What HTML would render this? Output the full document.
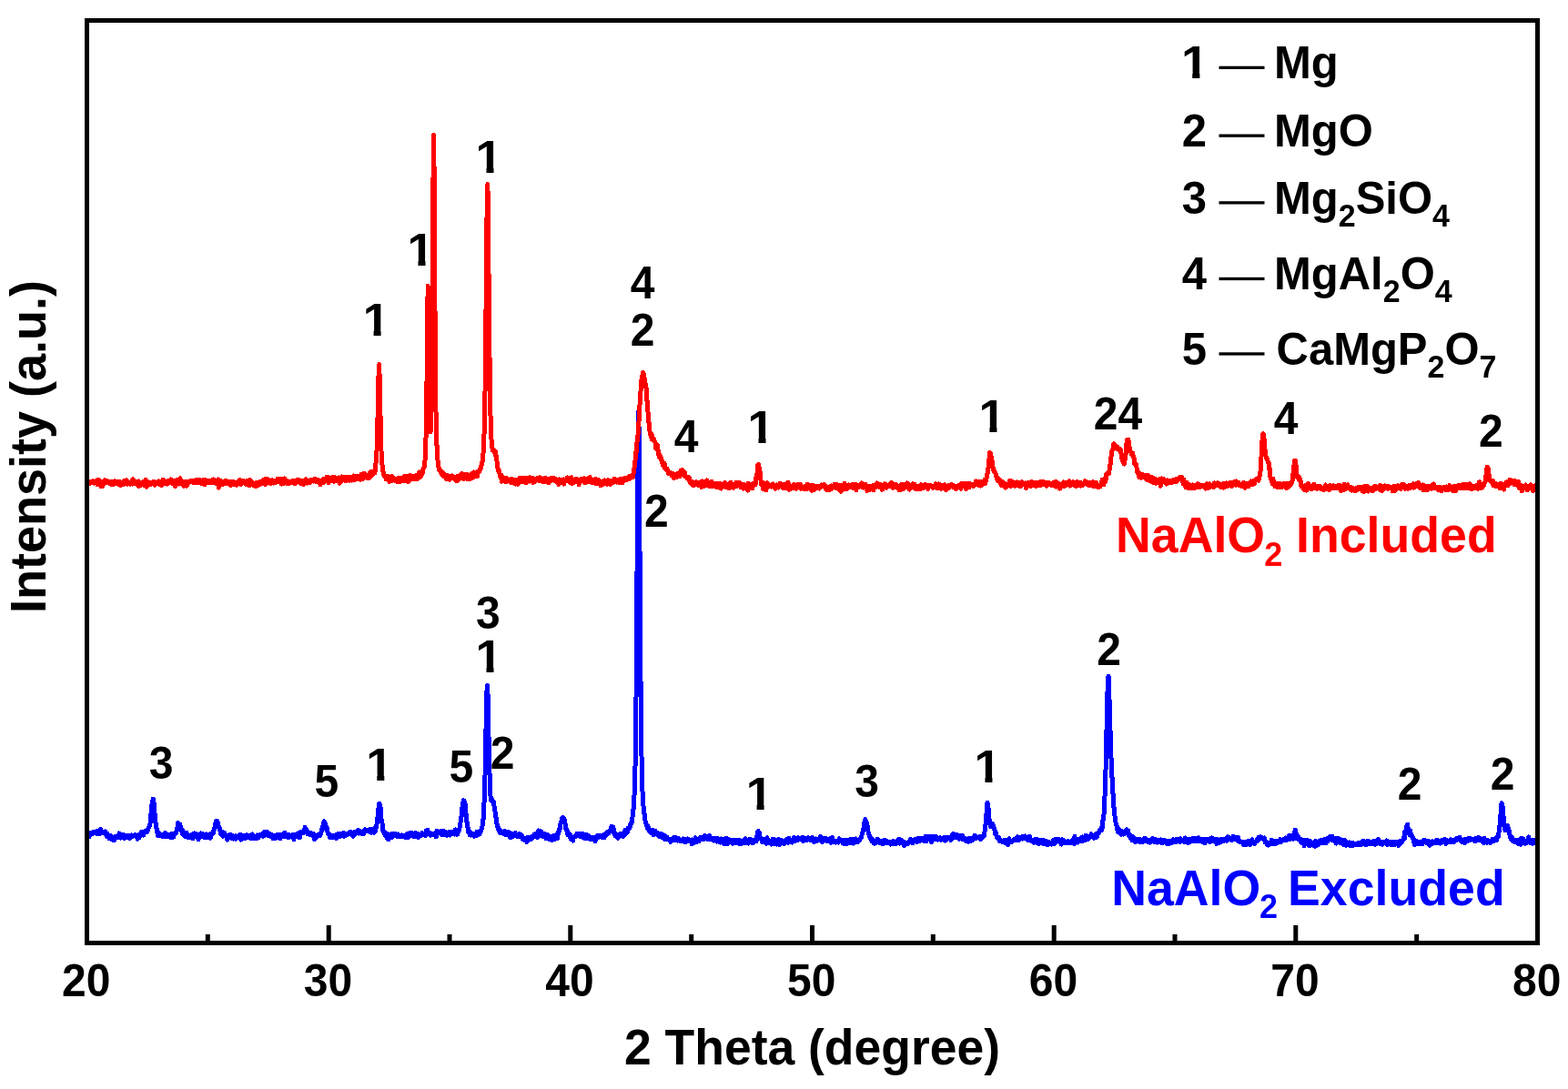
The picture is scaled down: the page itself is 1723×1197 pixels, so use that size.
<!DOCTYPE html>
<html><head><meta charset="utf-8"><title>XRD</title>
<style>
html,body{margin:0;padding:0;background:#fff;}
body{width:1723px;height:1197px;overflow:hidden;}
svg{display:block;}
text{font-family:"Liberation Sans",Arial,sans-serif;font-weight:bold;}
</style></head><body>
<svg width="1723" height="1197" viewBox="0 0 1723 1197">
<rect width="1723" height="1197" fill="#fff"/>
<defs><clipPath id="c1" clipPathUnits="userSpaceOnUse"><rect x="-40" y="-80" width="80" height="74.10"/><rect x="-2.49" y="-6.40" width="7.29" height="7.90"/></clipPath>
<clipPath id="c1l" clipPathUnits="userSpaceOnUse"><rect x="-40" y="-80" width="80" height="74.00"/><rect x="-2.54" y="-6.50" width="7.42" height="8.00"/></clipPath>
</defs>
<path d="M95.5 918.9L96.0 917.7L96.6 917.6L97.1 914.6L97.6 920.0L98.2 918.8L98.7 916.5L99.2 917.6L99.7 916.6L100.3 915.2L100.8 917.1L101.3 915.1L101.9 914.9L102.4 914.2L102.9 915.8L103.5 915.0L104.0 915.9L104.5 914.3L105.0 915.3L105.6 913.9L106.1 916.2L106.6 915.3L107.2 915.4L107.7 915.3L108.2 913.3L108.8 915.5L109.3 916.9L109.8 911.6L110.3 911.4L110.9 911.9L111.4 915.2L111.9 914.3L112.5 915.7L113.0 915.3L113.5 914.8L114.1 915.1L114.6 914.7L115.1 916.4L115.6 914.0L116.2 915.4L116.7 916.8L117.2 919.4L117.8 916.5L118.3 916.6L118.8 917.9L119.4 920.6L119.9 919.6L120.4 922.0L120.9 918.0L121.5 922.2L122.0 922.3L122.5 919.1L123.1 921.3L123.6 922.7L124.1 921.1L124.7 922.3L125.2 924.0L125.7 921.0L126.2 920.1L126.8 919.3L127.3 921.1L127.8 919.8L128.4 919.7L128.9 919.7L129.4 920.6L130.0 918.1L130.5 917.4L131.0 916.0L131.5 920.8L132.1 919.2L132.6 921.1L133.1 918.9L133.7 917.9L134.2 919.5L134.7 918.8L135.3 917.2L135.8 917.8L136.3 921.5L136.8 919.7L137.4 919.9L137.9 919.1L138.4 918.7L139.0 921.0L139.5 919.7L140.0 918.8L140.6 919.7L141.1 918.6L141.6 920.0L142.1 921.1L142.7 918.4L143.2 921.3L143.7 918.4L144.3 919.4L144.8 918.0L145.3 918.7L145.9 919.1L146.4 918.4L146.9 918.1L147.4 918.2L148.0 918.0L148.5 917.1L149.0 918.9L149.6 919.9L150.1 920.6L150.6 920.2L151.2 922.4L151.7 919.4L152.2 918.1L152.7 921.0L153.3 916.9L153.8 919.3L154.3 916.5L154.9 918.0L155.4 914.5L155.9 918.1L156.5 916.4L157.0 914.9L157.5 918.2L158.0 916.7L158.6 915.3L159.1 913.9L159.6 914.4L160.2 913.9L160.7 914.9L161.2 914.8L161.8 912.6L162.3 912.3L162.8 911.8L163.3 909.7L163.9 909.2L164.4 907.7L164.9 905.5L165.5 902.0L166.0 893.9L166.5 889.9L167.1 883.0L167.6 882.2L168.1 878.0L168.6 880.7L169.2 883.4L169.7 889.6L170.2 897.2L170.8 902.0L171.3 907.7L171.8 908.6L172.4 914.1L172.9 913.6L173.4 918.3L173.9 916.3L174.5 918.6L175.0 915.6L175.5 918.4L176.1 916.9L176.6 917.6L177.1 918.5L177.7 918.2L178.2 919.0L178.7 919.7L179.2 919.6L179.8 918.5L180.3 916.8L180.8 917.4L181.4 918.1L181.9 915.4L182.4 919.3L183.0 917.9L183.5 917.9L184.0 919.6L184.5 919.4L185.1 918.9L185.6 917.4L186.1 919.4L186.7 919.5L187.2 918.0L187.7 920.7L188.3 920.0L188.8 916.6L189.3 919.3L189.8 917.3L190.4 920.3L190.9 919.5L191.4 916.4L192.0 916.1L192.5 916.5L193.0 914.9L193.6 915.9L194.1 913.3L194.6 910.1L195.1 909.5L195.7 904.5L196.2 906.6L196.7 907.0L197.3 905.9L197.8 906.2L198.3 909.4L198.9 913.0L199.4 912.2L199.9 911.9L200.4 916.6L201.0 913.1L201.5 917.1L202.0 916.1L202.6 918.5L203.1 916.4L203.6 919.5L204.2 918.4L204.7 915.9L205.2 915.7L205.7 918.2L206.3 920.6L206.8 919.2L207.3 919.2L207.9 918.9L208.4 920.3L208.9 919.8L209.5 919.6L210.0 917.8L210.5 920.5L211.0 920.6L211.6 916.9L212.1 921.7L212.6 919.5L213.2 917.9L213.7 916.0L214.2 919.6L214.8 919.5L215.3 918.1L215.8 916.5L216.3 920.5L216.9 918.3L217.4 918.4L217.9 922.9L218.5 921.9L219.0 920.3L219.5 918.3L220.1 919.7L220.6 915.8L221.1 919.1L221.6 917.9L222.2 917.3L222.7 916.9L223.2 919.9L223.8 919.4L224.3 919.5L224.8 920.5L225.4 918.2L225.9 917.7L226.4 917.0L226.9 918.9L227.5 920.3L228.0 919.0L228.5 920.0L229.1 917.5L229.6 918.4L230.1 917.9L230.7 917.1L231.2 921.2L231.7 919.6L232.2 917.1L232.8 916.7L233.3 917.1L233.8 914.4L234.4 915.8L234.9 912.2L235.4 911.8L236.0 909.0L236.5 907.8L237.0 904.7L237.5 902.6L238.1 902.3L238.6 902.3L239.1 903.4L239.7 905.1L240.2 908.8L240.7 909.8L241.3 910.3L241.8 913.3L242.3 912.9L242.8 917.1L243.4 916.9L243.9 915.1L244.4 918.6L245.0 919.1L245.5 914.7L246.0 917.6L246.6 918.2L247.1 916.4L247.6 917.7L248.1 918.0L248.7 920.1L249.2 919.9L249.7 923.1L250.3 919.0L250.8 921.1L251.3 919.7L251.9 919.9L252.4 918.0L252.9 917.1L253.4 918.6L254.0 920.7L254.5 921.9L255.0 920.7L255.6 920.6L256.1 918.9L256.6 922.1L257.2 921.9L257.7 919.4L258.2 920.1L258.7 918.8L259.3 922.2L259.8 920.7L260.3 920.0L260.9 920.7L261.4 920.8L261.9 919.6L262.5 918.4L263.0 918.3L263.5 917.7L264.0 920.7L264.6 923.0L265.1 917.8L265.6 920.3L266.2 920.7L266.7 918.9L267.2 920.5L267.8 918.8L268.3 921.9L268.8 919.4L269.3 920.4L269.9 921.1L270.4 919.6L270.9 917.7L271.5 919.4L272.0 921.0L272.5 919.8L273.1 920.1L273.6 918.3L274.1 919.8L274.6 920.5L275.2 919.4L275.7 921.9L276.2 919.0L276.8 917.8L277.3 917.0L277.8 920.8L278.4 919.2L278.9 920.8L279.4 920.1L279.9 921.7L280.5 921.3L281.0 919.1L281.5 920.0L282.1 921.1L282.6 917.9L283.1 921.4L283.7 920.9L284.2 920.4L284.7 918.6L285.2 919.2L285.8 917.1L286.3 918.6L286.8 917.5L287.4 918.3L287.9 917.4L288.4 918.4L289.0 919.4L289.5 915.9L290.0 918.7L290.5 914.6L291.1 914.1L291.6 916.7L292.1 916.7L292.7 917.1L293.2 914.3L293.7 916.4L294.3 916.8L294.8 918.5L295.3 916.9L295.8 918.1L296.4 916.4L296.9 917.8L297.4 917.8L298.0 919.6L298.5 917.5L299.0 917.9L299.6 919.9L300.1 921.6L300.6 919.7L301.1 919.6L301.7 918.6L302.2 920.5L302.7 919.7L303.3 921.3L303.8 919.4L304.3 917.7L304.9 918.2L305.4 917.7L305.9 917.4L306.4 920.9L307.0 920.3L307.5 917.6L308.0 921.7L308.6 919.7L309.1 918.0L309.6 919.8L310.2 919.1L310.7 918.1L311.2 916.5L311.7 919.0L312.3 919.3L312.8 915.3L313.3 919.4L313.9 919.5L314.4 918.0L314.9 918.8L315.5 918.3L316.0 917.7L316.5 918.5L317.0 921.0L317.6 917.4L318.1 919.9L318.6 920.0L319.2 919.0L319.7 919.4L320.2 918.0L320.8 918.6L321.3 919.6L321.8 919.7L322.3 917.8L322.9 922.8L323.4 917.7L323.9 918.3L324.5 917.6L325.0 917.2L325.5 919.4L326.1 916.9L326.6 919.3L327.1 919.0L327.6 916.0L328.2 918.8L328.7 916.4L329.2 921.0L329.8 916.7L330.3 915.8L330.8 914.4L331.4 915.1L331.9 915.9L332.4 915.1L332.9 914.5L333.5 914.7L334.0 914.4L334.5 915.2L335.1 909.4L335.6 910.5L336.1 910.9L336.7 911.6L337.2 913.1L337.7 914.3L338.2 916.9L338.8 915.8L339.3 915.5L339.8 917.2L340.4 916.9L340.9 916.4L341.4 917.4L342.0 915.9L342.5 918.1L343.0 918.1L343.5 917.2L344.1 916.3L344.6 920.2L345.1 918.4L345.7 922.6L346.2 917.7L346.7 919.9L347.3 918.3L347.8 919.3L348.3 920.1L348.8 917.8L349.4 918.6L349.9 918.8L350.4 918.4L351.0 918.7L351.5 918.8L352.0 917.8L352.6 916.1L353.1 914.1L353.6 911.5L354.1 910.2L354.7 908.5L355.2 908.1L355.7 905.0L356.3 902.8L356.8 905.4L357.3 904.6L357.9 906.5L358.4 909.4L358.9 912.4L359.4 910.4L360.0 913.7L360.5 916.7L361.0 916.9L361.6 916.9L362.1 917.8L362.6 920.8L363.2 918.5L363.7 920.2L364.2 920.4L364.7 918.8L365.3 920.1L365.8 919.0L366.3 918.8L366.9 918.1L367.4 920.8L367.9 919.0L368.5 918.8L369.0 917.9L369.5 921.8L370.0 920.2L370.6 918.9L371.1 917.9L371.6 916.6L372.2 918.9L372.7 918.7L373.2 916.3L373.8 919.7L374.3 919.0L374.8 916.6L375.3 917.1L375.9 917.1L376.4 917.9L376.9 917.3L377.5 915.2L378.0 919.3L378.5 917.6L379.1 918.7L379.6 918.5L380.1 916.4L380.6 917.0L381.2 917.5L381.7 917.5L382.2 916.3L382.8 915.7L383.3 916.7L383.8 915.7L384.4 916.1L384.9 914.2L385.4 917.2L385.9 915.7L386.5 916.3L387.0 917.0L387.5 917.4L388.1 919.4L388.6 917.0L389.1 914.7L389.7 916.6L390.2 915.4L390.7 916.5L391.2 914.8L391.8 914.6L392.3 914.6L392.8 914.2L393.4 912.3L393.9 913.7L394.4 914.5L395.0 916.0L395.5 913.9L396.0 913.7L396.5 915.0L397.1 914.9L397.6 916.3L398.1 915.0L398.7 914.1L399.2 916.0L399.7 916.2L400.3 913.5L400.8 914.3L401.3 911.7L401.8 913.4L402.4 912.7L402.9 913.5L403.4 913.0L404.0 913.3L404.5 913.2L405.0 913.8L405.6 913.5L406.1 912.5L406.6 911.5L407.1 915.0L407.7 915.3L408.2 912.8L408.7 914.2L409.3 911.4L409.8 911.3L410.3 913.1L410.9 915.3L411.4 911.7L411.9 911.5L412.4 914.1L413.0 908.0L413.5 909.4L414.0 906.3L414.6 901.5L415.1 897.3L415.6 895.3L416.2 885.4L416.7 883.4L417.2 883.3L417.7 885.6L418.3 889.6L418.8 899.0L419.3 902.3L419.9 904.1L420.4 909.0L420.9 913.0L421.5 914.8L422.0 913.6L422.5 916.4L423.0 917.5L423.6 918.2L424.1 918.6L424.6 915.9L425.2 921.0L425.7 919.0L426.2 921.3L426.8 922.8L427.3 918.7L427.8 917.1L428.3 919.8L428.9 918.3L429.4 917.8L429.9 916.9L430.5 920.5L431.0 917.6L431.5 916.2L432.1 917.5L432.6 916.5L433.1 918.3L433.6 917.4L434.2 916.5L434.7 918.7L435.2 917.1L435.8 918.9L436.3 919.6L436.8 917.5L437.4 917.1L437.9 918.4L438.4 919.4L438.9 918.3L439.5 918.6L440.0 918.5L440.5 919.0L441.1 919.6L441.6 917.9L442.1 918.3L442.7 919.1L443.2 918.2L443.7 919.2L444.2 919.8L444.8 919.0L445.3 918.1L445.8 917.8L446.4 921.0L446.9 919.7L447.4 916.8L448.0 917.0L448.5 920.5L449.0 919.9L449.5 917.9L450.1 919.2L450.6 915.5L451.1 917.5L451.7 918.5L452.2 915.0L452.7 916.4L453.3 918.6L453.8 919.1L454.3 916.8L454.8 918.0L455.4 919.7L455.9 917.0L456.4 915.7L457.0 917.3L457.5 916.9L458.0 919.1L458.6 917.6L459.1 916.3L459.6 920.6L460.1 916.7L460.7 918.0L461.2 918.3L461.7 918.5L462.3 917.7L462.8 918.2L463.3 917.3L463.9 915.4L464.4 917.0L464.9 916.9L465.4 916.8L466.0 917.1L466.5 915.9L467.0 918.3L467.6 918.4L468.1 913.1L468.6 915.9L469.2 914.8L469.7 912.2L470.2 916.2L470.7 914.9L471.3 915.4L471.8 915.2L472.3 917.8L472.9 918.2L473.4 917.2L473.9 917.9L474.5 917.0L475.0 917.4L475.5 916.2L476.0 917.2L476.6 916.2L477.1 917.5L477.6 918.0L478.2 917.1L478.7 918.1L479.2 920.0L479.8 913.4L480.3 916.1L480.8 915.2L481.3 915.3L481.9 914.0L482.4 915.9L482.9 915.5L483.5 915.0L484.0 915.6L484.5 915.2L485.1 913.0L485.6 917.7L486.1 916.0L486.6 915.2L487.2 917.0L487.7 915.8L488.2 913.8L488.8 917.9L489.3 914.4L489.8 916.3L490.4 916.7L490.9 918.2L491.4 917.9L491.9 916.4L492.5 914.9L493.0 915.3L493.5 917.2L494.1 918.0L494.6 916.2L495.1 914.5L495.7 916.7L496.2 914.7L496.7 914.6L497.2 914.7L497.8 915.9L498.3 915.5L498.8 916.5L499.4 916.9L499.9 915.8L500.4 911.9L501.0 912.7L501.5 915.1L502.0 914.6L502.5 917.3L503.1 913.9L503.6 913.1L504.1 913.7L504.7 912.5L505.2 908.8L505.7 907.1L506.3 901.7L506.8 897.9L507.3 896.2L507.8 887.7L508.4 886.1L508.9 881.9L509.4 879.8L510.0 880.1L510.5 882.1L511.0 882.6L511.6 889.2L512.1 895.0L512.6 901.9L513.1 903.4L513.7 907.5L514.2 910.7L514.7 915.1L515.3 912.9L515.8 914.2L516.3 917.6L516.9 914.5L517.4 918.1L517.9 917.3L518.4 915.8L519.0 917.4L519.5 916.5L520.0 917.9L520.6 918.0L521.1 919.4L521.6 917.3L522.2 917.3L522.7 916.3L523.2 917.0L523.7 918.4L524.3 914.3L524.8 917.7L525.3 915.9L525.9 916.5L526.4 916.5L526.9 916.7L527.5 915.2L528.0 913.5L528.5 913.4L529.0 911.5L529.6 909.4L530.1 907.5L530.6 904.9L531.2 898.7L531.7 891.0L532.2 877.5L532.8 862.6L533.3 838.2L533.8 814.6L534.3 783.1L534.9 761.5L535.4 753.4L535.9 757.9L536.5 783.4L537.0 809.6L537.5 833.3L538.1 852.5L538.6 867.8L539.1 877.0L539.6 879.6L540.2 878.4L540.7 878.9L541.2 879.5L541.8 881.7L542.3 881.5L542.8 884.1L543.4 888.7L543.9 890.7L544.4 894.9L544.9 898.5L545.5 899.7L546.0 905.6L546.5 907.9L547.1 910.5L547.6 909.1L548.1 910.7L548.7 913.9L549.2 913.7L549.7 915.6L550.2 913.0L550.8 914.7L551.3 913.7L551.8 915.2L552.4 914.3L552.9 915.8L553.4 916.8L554.0 916.4L554.5 913.2L555.0 917.1L555.5 916.7L556.1 914.8L556.6 915.2L557.1 916.5L557.7 917.4L558.2 916.2L558.7 914.7L559.3 917.4L559.8 917.3L560.3 920.4L560.8 915.4L561.4 920.6L561.9 919.6L562.4 917.8L563.0 919.6L563.5 917.6L564.0 918.8L564.6 916.5L565.1 917.7L565.6 916.2L566.1 915.5L566.7 917.3L567.2 916.9L567.7 918.6L568.3 919.6L568.8 917.8L569.3 918.2L569.9 918.6L570.4 916.3L570.9 919.2L571.4 919.2L572.0 919.4L572.5 918.3L573.0 917.5L573.6 920.1L574.1 921.0L574.6 922.6L575.2 922.5L575.7 923.1L576.2 921.8L576.7 923.0L577.3 921.2L577.8 922.4L578.3 922.9L578.9 925.4L579.4 922.1L579.9 920.1L580.5 923.7L581.0 920.7L581.5 921.6L582.0 921.2L582.6 920.2L583.1 923.0L583.6 921.8L584.2 919.8L584.7 920.3L585.2 919.2L585.8 920.2L586.3 918.5L586.8 917.6L587.3 917.5L587.9 917.5L588.4 918.2L588.9 916.4L589.5 917.3L590.0 917.9L590.5 920.4L591.1 918.3L591.6 913.0L592.1 916.3L592.6 916.4L593.2 917.3L593.7 918.9L594.2 917.8L594.8 914.0L595.3 917.8L595.8 917.7L596.4 918.3L596.9 919.8L597.4 916.6L597.9 919.8L598.5 916.2L599.0 918.7L599.5 919.2L600.1 922.0L600.6 918.2L601.1 917.0L601.7 920.4L602.2 918.8L602.7 922.1L603.2 919.3L603.8 919.4L604.3 922.5L604.8 921.2L605.4 922.5L605.9 919.3L606.4 923.5L607.0 920.4L607.5 922.2L608.0 919.6L608.5 918.7L609.1 920.2L609.6 920.6L610.1 922.1L610.7 920.0L611.2 920.1L611.7 919.4L612.3 921.9L612.8 915.7L613.3 917.4L613.8 914.3L614.4 913.3L614.9 910.5L615.4 910.8L616.0 905.4L616.5 903.2L617.0 902.6L617.6 899.5L618.1 900.7L618.6 900.5L619.1 898.5L619.7 901.7L620.2 901.4L620.7 904.3L621.3 906.6L621.8 911.4L622.3 911.0L622.9 911.7L623.4 913.4L623.9 917.8L624.4 915.1L625.0 917.8L625.5 918.8L626.0 916.7L626.6 919.9L627.1 922.3L627.6 921.5L628.2 920.2L628.7 922.5L629.2 922.2L629.7 924.0L630.3 919.9L630.8 920.0L631.3 920.3L631.9 919.7L632.4 919.6L632.9 919.1L633.5 918.0L634.0 916.6L634.5 917.8L635.0 916.5L635.6 916.8L636.1 917.3L636.6 918.6L637.2 919.1L637.7 916.8L638.2 918.9L638.8 919.9L639.3 918.9L639.8 917.0L640.3 916.5L640.9 920.6L641.4 920.9L641.9 920.1L642.5 918.4L643.0 921.9L643.5 921.7L644.1 920.0L644.6 919.8L645.1 917.5L645.6 921.2L646.2 918.1L646.7 921.2L647.2 921.3L647.8 920.5L648.3 922.6L648.8 920.1L649.4 921.4L649.9 921.7L650.4 921.1L650.9 920.2L651.5 922.5L652.0 921.6L652.5 920.9L653.1 921.0L653.6 921.6L654.1 924.6L654.7 921.5L655.2 920.9L655.7 919.6L656.2 919.3L656.8 918.2L657.3 921.0L657.8 920.6L658.4 919.0L658.9 918.3L659.4 919.7L660.0 919.4L660.5 918.1L661.0 920.2L661.5 919.9L662.1 919.4L662.6 920.4L663.1 918.3L663.7 920.8L664.2 917.3L664.7 919.2L665.3 919.0L665.8 917.5L666.3 918.1L666.8 915.5L667.4 914.7L667.9 915.9L668.4 914.7L669.0 915.8L669.5 914.1L670.0 913.8L670.6 912.2L671.1 910.7L671.6 909.5L672.1 908.3L672.7 908.3L673.2 912.5L673.7 908.8L674.3 912.5L674.8 915.6L675.3 916.1L675.9 918.6L676.4 918.3L676.9 916.5L677.4 918.3L678.0 917.1L678.5 920.5L679.0 921.2L679.6 918.6L680.1 919.8L680.6 918.4L681.2 916.8L681.7 918.0L682.2 916.2L682.7 917.4L683.3 918.3L683.8 918.8L684.3 919.4L684.9 917.0L685.4 917.5L685.9 917.5L686.5 917.3L687.0 912.2L687.5 914.6L688.0 916.2L688.6 913.1L689.1 914.3L689.6 914.5L690.2 910.1L690.7 911.6L691.2 911.3L691.8 910.0L692.3 906.8L692.8 908.0L693.3 905.2L693.9 905.2L694.4 902.4L694.9 898.3L695.5 895.7L696.0 889.8L696.5 883.3L697.1 872.5L697.6 859.5L698.1 838.0L698.6 801.9L699.2 750.8L699.7 681.5L700.2 599.0L700.8 516.1L701.3 453.1L701.8 452.5L702.4 501.9L702.9 587.4L703.4 670.1L703.9 739.0L704.5 794.2L705.0 831.0L705.5 855.9L706.1 872.1L706.6 880.5L707.1 887.4L707.7 892.7L708.2 895.2L708.7 899.8L709.2 902.9L709.8 905.0L710.3 906.7L710.8 907.4L711.4 910.3L711.9 907.5L712.4 910.7L713.0 911.5L713.5 913.8L714.0 914.0L714.5 914.6L715.1 913.9L715.6 915.5L716.1 913.1L716.7 914.8L717.2 912.1L717.7 917.5L718.3 917.5L718.8 914.8L719.3 914.7L719.8 913.2L720.4 914.3L720.9 916.8L721.4 916.7L722.0 915.2L722.5 916.8L723.0 916.8L723.6 918.6L724.1 919.1L724.6 918.1L725.1 918.7L725.7 918.8L726.2 916.2L726.7 919.4L727.3 919.3L727.8 920.6L728.3 917.3L728.9 921.0L729.4 919.3L729.9 920.7L730.4 922.2L731.0 918.8L731.5 919.2L732.0 922.5L732.6 919.9L733.1 920.3L733.6 922.7L734.2 921.7L734.7 923.2L735.2 922.7L735.7 922.4L736.3 923.8L736.8 925.4L737.3 922.3L737.9 924.3L738.4 923.8L738.9 922.3L739.5 922.7L740.0 920.7L740.5 921.1L741.0 922.3L741.6 921.8L742.1 923.7L742.6 920.2L743.2 921.7L743.7 921.3L744.2 922.1L744.8 924.0L745.3 921.0L745.8 924.0L746.3 922.2L746.9 922.8L747.4 924.8L747.9 923.2L748.5 924.7L749.0 924.1L749.5 923.8L750.1 923.7L750.6 921.8L751.1 923.2L751.6 924.5L752.2 924.5L752.7 922.2L753.2 925.6L753.8 925.0L754.3 922.5L754.8 922.8L755.4 924.9L755.9 921.9L756.4 923.3L756.9 924.3L757.5 924.3L758.0 924.5L758.5 925.1L759.1 923.6L759.6 924.1L760.1 927.6L760.7 922.9L761.2 924.3L761.7 925.0L762.2 923.9L762.8 926.4L763.3 924.7L763.8 925.5L764.4 920.7L764.9 925.7L765.4 925.3L766.0 922.3L766.5 924.7L767.0 923.1L767.5 923.7L768.1 924.8L768.6 922.3L769.1 920.7L769.7 921.9L770.2 920.1L770.7 920.6L771.3 920.6L771.8 920.5L772.3 922.9L772.8 922.3L773.4 919.8L773.9 922.4L774.4 918.4L775.0 919.6L775.5 920.1L776.0 921.7L776.6 921.2L777.1 920.9L777.6 922.2L778.1 921.4L778.7 922.4L779.2 919.6L779.7 918.5L780.3 920.4L780.8 922.3L781.3 921.7L781.9 922.8L782.4 922.8L782.9 922.8L783.4 923.5L784.0 921.6L784.5 924.2L785.0 921.5L785.6 922.9L786.1 921.1L786.6 923.8L787.2 921.0L787.7 925.1L788.2 921.4L788.7 923.7L789.3 923.3L789.8 922.5L790.3 925.5L790.9 923.4L791.4 926.2L791.9 923.0L792.5 923.5L793.0 922.0L793.5 925.5L794.0 926.0L794.6 925.0L795.1 924.5L795.6 923.4L796.2 927.8L796.7 925.6L797.2 922.1L797.8 924.2L798.3 921.1L798.8 926.8L799.3 927.4L799.9 926.8L800.4 924.7L800.9 924.0L801.5 922.9L802.0 925.6L802.5 923.8L803.1 924.3L803.6 923.9L804.1 924.4L804.6 926.0L805.2 927.1L805.7 925.0L806.2 924.9L806.8 923.4L807.3 923.3L807.8 923.6L808.4 926.2L808.9 925.4L809.4 926.4L809.9 925.6L810.5 924.5L811.0 923.3L811.5 924.5L812.1 923.1L812.6 927.7L813.1 925.3L813.7 924.4L814.2 927.6L814.7 924.3L815.2 925.6L815.8 924.6L816.3 925.3L816.8 924.3L817.4 925.5L817.9 926.7L818.4 923.0L819.0 921.7L819.5 926.5L820.0 924.8L820.5 925.7L821.1 924.1L821.6 926.6L822.1 927.0L822.7 922.9L823.2 925.5L823.7 923.8L824.3 922.5L824.8 924.4L825.3 925.6L825.8 923.1L826.4 923.3L826.9 926.8L827.4 925.2L828.0 925.7L828.5 923.6L829.0 924.2L829.6 925.0L830.1 924.7L830.6 923.9L831.1 924.7L831.7 920.9L832.2 916.0L832.7 914.2L833.3 913.7L833.8 916.0L834.3 915.6L834.9 918.6L835.4 921.2L835.9 921.8L836.4 922.5L837.0 923.7L837.5 925.6L838.0 925.1L838.6 924.0L839.1 924.9L839.6 922.6L840.2 925.7L840.7 925.3L841.2 924.7L841.7 922.2L842.3 927.3L842.8 920.7L843.3 923.6L843.9 924.0L844.4 926.4L844.9 923.7L845.5 926.2L846.0 925.8L846.5 925.7L847.0 927.3L847.6 928.0L848.1 926.5L848.6 925.4L849.2 922.5L849.7 927.5L850.2 924.9L850.8 922.6L851.3 925.3L851.8 927.0L852.3 924.8L852.9 923.3L853.4 928.1L853.9 925.8L854.5 925.5L855.0 926.5L855.5 922.3L856.1 925.2L856.6 925.1L857.1 928.5L857.6 924.7L858.2 924.7L858.7 923.6L859.2 924.3L859.8 925.1L860.3 925.6L860.8 924.9L861.4 927.8L861.9 925.6L862.4 925.7L862.9 926.6L863.5 925.5L864.0 923.9L864.5 922.4L865.1 925.1L865.6 923.4L866.1 926.4L866.7 923.5L867.2 921.5L867.7 924.6L868.2 925.9L868.8 924.0L869.3 924.4L869.8 924.1L870.4 926.1L870.9 923.9L871.4 923.2L872.0 922.3L872.5 920.7L873.0 924.8L873.5 924.4L874.1 921.4L874.6 923.5L875.1 923.1L875.7 922.1L876.2 922.1L876.7 923.5L877.3 920.8L877.8 921.7L878.3 922.2L878.8 922.2L879.4 921.9L879.9 922.4L880.4 922.8L881.0 920.9L881.5 922.3L882.0 921.6L882.6 924.5L883.1 920.6L883.6 922.3L884.1 923.7L884.7 922.4L885.2 922.5L885.7 922.2L886.3 923.4L886.8 921.3L887.3 922.8L887.9 922.7L888.4 920.7L888.9 923.0L889.4 921.9L890.0 923.0L890.5 923.7L891.0 923.0L891.6 920.9L892.1 923.0L892.6 920.5L893.2 921.8L893.7 925.3L894.2 923.2L894.7 925.4L895.3 923.1L895.8 923.5L896.3 921.9L896.9 924.7L897.4 923.1L897.9 924.0L898.5 923.6L899.0 923.5L899.5 923.1L900.0 922.4L900.6 922.3L901.1 921.2L901.6 919.2L902.2 922.7L902.7 925.0L903.2 923.7L903.8 925.5L904.3 923.1L904.8 921.2L905.3 921.4L905.9 923.9L906.4 923.4L906.9 922.8L907.5 924.1L908.0 921.9L908.5 923.8L909.1 922.7L909.6 923.2L910.1 924.6L910.6 922.7L911.2 924.7L911.7 924.7L912.2 921.9L912.8 926.2L913.3 921.4L913.8 923.1L914.4 924.4L914.9 920.5L915.4 925.2L915.9 925.5L916.5 923.9L917.0 924.6L917.5 924.7L918.1 924.2L918.6 926.0L919.1 924.0L919.7 924.5L920.2 925.1L920.7 925.7L921.2 926.0L921.8 922.5L922.3 921.7L922.8 924.3L923.4 924.4L923.9 923.0L924.4 924.9L925.0 925.3L925.5 925.0L926.0 926.8L926.5 923.2L927.1 924.7L927.6 927.4L928.1 925.8L928.7 923.4L929.2 925.3L929.7 926.6L930.3 927.9L930.8 925.9L931.3 926.6L931.8 923.4L932.4 924.6L932.9 926.5L933.4 923.5L934.0 924.6L934.5 922.1L935.0 926.7L935.6 924.5L936.1 925.4L936.6 922.5L937.1 922.8L937.7 927.0L938.2 924.1L938.7 923.8L939.3 925.3L939.8 925.4L940.3 922.0L940.9 923.4L941.4 924.9L941.9 924.8L942.4 925.3L943.0 924.1L943.5 924.1L944.0 924.5L944.6 922.8L945.1 922.0L945.6 921.5L946.2 921.1L946.7 919.5L947.2 917.3L947.7 915.5L948.3 913.3L948.8 911.2L949.3 908.5L949.9 903.8L950.4 905.0L950.9 900.5L951.5 903.6L952.0 903.2L952.5 907.1L953.0 910.3L953.6 909.0L954.1 914.9L954.6 916.7L955.2 917.7L955.7 920.4L956.2 920.5L956.8 922.3L957.3 921.5L957.8 924.5L958.3 924.6L958.9 925.1L959.4 923.4L959.9 926.9L960.5 927.2L961.0 924.5L961.5 924.1L962.1 924.2L962.6 925.8L963.1 926.3L963.6 924.0L964.2 922.3L964.7 925.8L965.2 925.2L965.8 925.6L966.3 926.1L966.8 924.0L967.4 925.6L967.9 925.2L968.4 926.1L968.9 927.3L969.5 925.6L970.0 924.4L970.5 927.3L971.1 926.5L971.6 925.2L972.1 923.0L972.7 924.3L973.2 925.7L973.7 926.3L974.2 924.9L974.8 926.3L975.3 924.9L975.8 925.3L976.4 926.7L976.9 925.8L977.4 926.4L978.0 927.5L978.5 927.9L979.0 925.7L979.5 926.3L980.1 924.9L980.6 925.0L981.1 927.3L981.7 926.3L982.2 924.6L982.7 927.9L983.3 926.1L983.8 926.7L984.3 927.6L984.8 927.4L985.4 926.6L985.9 923.7L986.4 926.9L987.0 925.0L987.5 923.6L988.0 922.3L988.6 927.0L989.1 925.3L989.6 925.3L990.1 926.1L990.7 925.4L991.2 923.8L991.7 927.0L992.3 927.7L992.8 927.3L993.3 928.9L993.9 929.6L994.4 926.0L994.9 926.6L995.4 928.3L996.0 927.2L996.5 927.1L997.0 927.9L997.6 927.5L998.1 925.7L998.6 926.3L999.2 925.0L999.7 925.4L1000.2 924.0L1000.7 922.6L1001.3 924.4L1001.8 924.1L1002.3 925.9L1002.9 926.7L1003.4 924.4L1003.9 924.8L1004.5 923.2L1005.0 922.7L1005.5 923.5L1006.0 923.4L1006.6 924.1L1007.1 923.8L1007.6 925.8L1008.2 923.2L1008.7 921.2L1009.2 923.5L1009.8 922.4L1010.3 923.5L1010.8 924.6L1011.3 922.1L1011.9 922.8L1012.4 923.6L1012.9 921.5L1013.5 923.1L1014.0 923.5L1014.5 923.8L1015.1 924.1L1015.6 923.3L1016.1 923.1L1016.6 920.8L1017.2 919.1L1017.7 921.4L1018.2 924.6L1018.8 922.8L1019.3 919.6L1019.8 922.0L1020.4 922.9L1020.9 919.8L1021.4 922.9L1021.9 920.4L1022.5 923.1L1023.0 921.6L1023.5 925.5L1024.1 919.4L1024.6 921.5L1025.1 919.1L1025.7 922.6L1026.2 921.3L1026.7 922.4L1027.2 921.3L1027.8 919.7L1028.3 920.5L1028.8 919.8L1029.4 920.1L1029.9 921.8L1030.4 923.1L1031.0 922.9L1031.5 922.5L1032.0 921.2L1032.5 922.7L1033.1 920.9L1033.6 922.4L1034.1 923.3L1034.7 922.0L1035.2 921.6L1035.7 921.6L1036.3 923.0L1036.8 921.8L1037.3 920.3L1037.8 921.6L1038.4 920.7L1038.9 924.1L1039.4 922.1L1040.0 920.1L1040.5 922.2L1041.0 922.5L1041.6 921.8L1042.1 920.6L1042.6 921.2L1043.1 921.2L1043.7 922.0L1044.2 921.0L1044.7 923.3L1045.3 919.8L1045.8 921.9L1046.3 919.6L1046.9 916.9L1047.4 917.6L1047.9 916.7L1048.4 916.8L1049.0 920.7L1049.5 918.2L1050.0 919.9L1050.6 917.9L1051.1 919.0L1051.6 917.6L1052.2 920.2L1052.7 918.8L1053.2 918.5L1053.7 919.0L1054.3 922.3L1054.8 920.1L1055.3 920.8L1055.9 918.3L1056.4 919.3L1056.9 920.9L1057.5 918.3L1058.0 922.9L1058.5 921.8L1059.0 921.6L1059.6 921.6L1060.1 921.8L1060.6 921.7L1061.2 924.4L1061.7 923.7L1062.2 924.7L1062.8 922.8L1063.3 922.1L1063.8 925.2L1064.3 921.8L1064.9 922.6L1065.4 924.4L1065.9 924.9L1066.5 921.6L1067.0 922.9L1067.5 923.2L1068.1 922.8L1068.6 921.6L1069.1 923.4L1069.6 921.5L1070.2 921.6L1070.7 918.6L1071.2 921.2L1071.8 918.5L1072.3 921.8L1072.8 921.4L1073.4 919.9L1073.9 920.7L1074.4 920.5L1074.9 920.1L1075.5 920.7L1076.0 920.0L1076.5 919.6L1077.1 919.1L1077.6 922.4L1078.1 920.3L1078.7 919.9L1079.2 920.8L1079.7 919.0L1080.2 918.6L1080.8 919.4L1081.3 918.8L1081.8 916.3L1082.4 910.3L1082.9 907.6L1083.4 901.3L1084.0 894.6L1084.5 886.0L1085.0 882.0L1085.5 884.4L1086.1 888.3L1086.6 894.1L1087.1 900.8L1087.7 905.8L1088.2 906.7L1088.7 908.5L1089.3 905.5L1089.8 907.3L1090.3 906.2L1090.8 905.5L1091.4 907.3L1091.9 908.4L1092.4 911.1L1093.0 912.3L1093.5 916.7L1094.0 916.1L1094.6 915.9L1095.1 918.6L1095.6 920.3L1096.1 920.0L1096.7 922.2L1097.2 920.3L1097.7 920.8L1098.3 924.5L1098.8 922.7L1099.3 923.7L1099.9 924.0L1100.4 924.4L1100.9 924.0L1101.4 924.0L1102.0 925.9L1102.5 924.0L1103.0 925.0L1103.6 925.9L1104.1 924.6L1104.6 923.2L1105.2 926.0L1105.7 926.9L1106.2 925.9L1106.7 923.5L1107.3 926.6L1107.8 928.5L1108.3 923.7L1108.9 921.9L1109.4 925.0L1109.9 925.2L1110.5 925.9L1111.0 925.7L1111.5 924.5L1112.0 924.8L1112.6 924.2L1113.1 923.7L1113.6 923.2L1114.2 922.9L1114.7 923.8L1115.2 923.2L1115.8 922.0L1116.3 923.9L1116.8 921.4L1117.3 922.0L1117.9 922.5L1118.4 919.7L1118.9 921.7L1119.5 923.3L1120.0 923.2L1120.5 920.4L1121.1 920.8L1121.6 920.5L1122.1 921.5L1122.6 921.7L1123.2 919.6L1123.7 922.0L1124.2 921.7L1124.8 921.4L1125.3 920.5L1125.8 920.9L1126.4 918.9L1126.9 921.6L1127.4 921.7L1127.9 921.4L1128.5 920.1L1129.0 923.4L1129.5 923.4L1130.1 919.6L1130.6 922.8L1131.1 922.6L1131.7 919.3L1132.2 923.7L1132.7 924.2L1133.2 924.5L1133.8 924.1L1134.3 923.3L1134.8 923.6L1135.4 925.2L1135.9 926.2L1136.4 924.1L1137.0 924.5L1137.5 925.9L1138.0 922.2L1138.5 925.8L1139.1 925.0L1139.6 922.5L1140.1 926.5L1140.7 924.3L1141.2 926.6L1141.7 927.3L1142.3 923.9L1142.8 924.0L1143.3 925.6L1143.8 923.3L1144.4 926.6L1144.9 925.9L1145.4 927.0L1146.0 923.4L1146.5 926.3L1147.0 926.7L1147.6 923.9L1148.1 927.6L1148.6 924.6L1149.1 926.6L1149.7 924.7L1150.2 927.4L1150.7 928.6L1151.3 926.5L1151.8 926.4L1152.3 928.0L1152.9 925.7L1153.4 926.3L1153.9 927.2L1154.4 926.5L1155.0 927.9L1155.5 927.2L1156.0 928.0L1156.6 925.2L1157.1 926.5L1157.6 923.6L1158.2 925.7L1158.7 926.6L1159.2 927.2L1159.7 922.3L1160.3 923.6L1160.8 924.7L1161.3 922.6L1161.9 924.5L1162.4 924.5L1162.9 923.2L1163.5 923.3L1164.0 922.9L1164.5 924.6L1165.0 926.0L1165.6 924.8L1166.1 928.1L1166.6 922.7L1167.2 923.9L1167.7 925.7L1168.2 923.4L1168.8 925.5L1169.3 926.3L1169.8 925.5L1170.3 925.1L1170.9 926.7L1171.4 926.1L1171.9 926.6L1172.5 926.4L1173.0 924.8L1173.5 924.2L1174.1 925.2L1174.6 925.8L1175.1 925.3L1175.6 926.7L1176.2 925.6L1176.7 926.4L1177.2 925.1L1177.8 923.8L1178.3 925.7L1178.8 925.1L1179.4 923.2L1179.9 923.6L1180.4 927.6L1180.9 919.2L1181.5 925.0L1182.0 923.4L1182.5 923.1L1183.1 922.7L1183.6 922.4L1184.1 926.1L1184.7 922.4L1185.2 922.6L1185.7 924.1L1186.2 923.6L1186.8 922.9L1187.3 922.8L1187.8 921.5L1188.4 924.7L1188.9 921.8L1189.4 919.9L1190.0 924.4L1190.5 923.8L1191.0 923.0L1191.5 921.6L1192.1 923.6L1192.6 920.2L1193.1 918.4L1193.7 921.2L1194.2 921.8L1194.7 921.2L1195.3 922.9L1195.8 921.0L1196.3 919.4L1196.8 919.3L1197.4 920.7L1197.9 919.3L1198.4 919.1L1199.0 916.9L1199.5 918.8L1200.0 917.5L1200.6 919.5L1201.1 919.3L1201.6 920.0L1202.1 921.3L1202.7 918.6L1203.2 920.6L1203.7 917.0L1204.3 918.5L1204.8 919.3L1205.3 920.3L1205.9 915.8L1206.4 916.5L1206.9 916.6L1207.4 915.8L1208.0 914.0L1208.5 912.4L1209.0 912.2L1209.6 912.8L1210.1 909.9L1210.6 912.5L1211.2 909.8L1211.7 902.9L1212.2 901.2L1212.7 898.6L1213.3 891.7L1213.8 881.5L1214.3 865.1L1214.9 849.8L1215.4 831.6L1215.9 806.6L1216.5 781.3L1217.0 760.6L1217.5 746.9L1218.0 743.3L1218.6 753.1L1219.1 771.7L1219.6 789.7L1220.2 808.3L1220.7 826.9L1221.2 837.6L1221.8 850.9L1222.3 859.0L1222.8 870.2L1223.3 875.8L1223.9 886.4L1224.4 891.7L1224.9 896.3L1225.5 899.8L1226.0 904.2L1226.5 905.8L1227.1 907.4L1227.6 912.0L1228.1 912.6L1228.6 914.4L1229.2 911.6L1229.7 911.5L1230.2 912.5L1230.8 916.0L1231.3 916.5L1231.8 913.2L1232.4 917.3L1232.9 915.5L1233.4 914.6L1233.9 916.2L1234.5 917.1L1235.0 916.0L1235.5 915.9L1236.1 914.7L1236.6 913.3L1237.1 914.1L1237.7 911.8L1238.2 914.4L1238.7 912.6L1239.2 916.1L1239.8 913.2L1240.3 918.4L1240.8 916.4L1241.4 917.3L1241.9 919.6L1242.4 921.0L1243.0 920.2L1243.5 920.1L1244.0 923.7L1244.5 921.9L1245.1 919.9L1245.6 921.4L1246.1 924.3L1246.7 922.7L1247.2 923.6L1247.7 925.4L1248.3 922.1L1248.8 923.6L1249.3 922.4L1249.8 923.5L1250.4 924.5L1250.9 922.1L1251.4 924.3L1252.0 924.4L1252.5 925.8L1253.0 923.7L1253.6 923.0L1254.1 925.4L1254.6 923.4L1255.1 925.2L1255.7 925.7L1256.2 923.8L1256.7 924.9L1257.3 923.7L1257.8 921.2L1258.3 923.1L1258.9 922.2L1259.4 925.0L1259.9 923.4L1260.4 924.6L1261.0 924.6L1261.5 925.9L1262.0 923.9L1262.6 923.6L1263.1 924.7L1263.6 926.0L1264.2 923.6L1264.7 924.1L1265.2 923.2L1265.7 922.4L1266.3 921.2L1266.8 923.1L1267.3 922.8L1267.9 922.8L1268.4 925.8L1268.9 922.7L1269.5 923.6L1270.0 922.8L1270.5 924.9L1271.0 923.0L1271.6 926.0L1272.1 923.2L1272.6 924.7L1273.2 925.1L1273.7 923.5L1274.2 925.1L1274.8 924.1L1275.3 923.0L1275.8 923.2L1276.3 924.6L1276.9 926.7L1277.4 923.8L1277.9 925.4L1278.5 923.7L1279.0 925.4L1279.5 923.5L1280.1 924.4L1280.6 925.7L1281.1 924.8L1281.6 925.6L1282.2 927.4L1282.7 925.9L1283.2 925.1L1283.8 924.3L1284.3 925.2L1284.8 927.4L1285.4 925.6L1285.9 925.4L1286.4 926.4L1286.9 926.5L1287.5 926.6L1288.0 924.7L1288.5 923.9L1289.1 922.8L1289.6 924.1L1290.1 924.5L1290.7 925.8L1291.2 925.2L1291.7 923.8L1292.2 925.7L1292.8 922.6L1293.3 922.7L1293.8 922.4L1294.4 922.4L1294.9 923.5L1295.4 922.7L1296.0 922.8L1296.5 925.7L1297.0 921.9L1297.5 922.5L1298.1 923.7L1298.6 924.6L1299.1 924.7L1299.7 923.7L1300.2 923.6L1300.7 923.7L1301.3 925.1L1301.8 922.8L1302.3 920.9L1302.8 924.3L1303.4 922.5L1303.9 924.1L1304.4 926.1L1305.0 924.3L1305.5 926.7L1306.0 922.2L1306.6 924.7L1307.1 924.9L1307.6 925.5L1308.1 923.4L1308.7 924.6L1309.2 924.4L1309.7 924.2L1310.3 922.1L1310.8 921.4L1311.3 924.3L1311.9 923.8L1312.4 923.1L1312.9 923.8L1313.4 924.2L1314.0 921.1L1314.5 923.7L1315.0 924.6L1315.6 923.9L1316.1 923.4L1316.6 923.5L1317.2 920.6L1317.7 921.9L1318.2 924.0L1318.7 924.7L1319.3 923.3L1319.8 922.1L1320.3 922.5L1320.9 923.9L1321.4 925.5L1321.9 923.9L1322.5 922.2L1323.0 923.9L1323.5 923.8L1324.0 926.6L1324.6 924.4L1325.1 923.7L1325.6 923.7L1326.2 922.2L1326.7 922.5L1327.2 923.3L1327.8 922.8L1328.3 924.1L1328.8 923.9L1329.3 925.0L1329.9 925.6L1330.4 923.7L1330.9 923.2L1331.5 920.9L1332.0 923.9L1332.5 924.3L1333.1 922.4L1333.6 923.0L1334.1 922.7L1334.6 925.1L1335.2 924.6L1335.7 925.5L1336.2 922.3L1336.8 927.6L1337.3 922.9L1337.8 922.7L1338.4 924.4L1338.9 923.4L1339.4 926.5L1339.9 923.5L1340.5 923.0L1341.0 925.2L1341.5 925.3L1342.1 922.4L1342.6 922.7L1343.1 922.7L1343.7 922.7L1344.2 925.0L1344.7 924.1L1345.2 923.7L1345.8 923.8L1346.3 922.1L1346.8 923.2L1347.4 921.9L1347.9 921.0L1348.4 924.3L1349.0 919.8L1349.5 922.2L1350.0 921.5L1350.5 920.1L1351.1 921.9L1351.6 922.5L1352.1 923.0L1352.7 921.3L1353.2 923.3L1353.7 922.6L1354.3 923.1L1354.8 919.3L1355.3 921.1L1355.8 920.6L1356.4 922.3L1356.9 920.6L1357.4 921.1L1358.0 920.4L1358.5 920.6L1359.0 921.2L1359.6 924.1L1360.1 921.7L1360.6 920.3L1361.1 924.3L1361.7 923.7L1362.2 925.5L1362.7 925.9L1363.3 925.1L1363.8 925.2L1364.3 925.3L1364.9 926.3L1365.4 925.4L1365.9 926.9L1366.4 928.6L1367.0 926.0L1367.5 926.0L1368.0 925.9L1368.6 927.5L1369.1 927.5L1369.6 928.4L1370.2 927.4L1370.7 926.5L1371.2 926.8L1371.7 924.2L1372.3 926.6L1372.8 926.0L1373.3 928.4L1373.9 927.4L1374.4 924.5L1374.9 924.8L1375.5 926.8L1376.0 922.9L1376.5 924.5L1377.0 926.3L1377.6 926.7L1378.1 926.0L1378.6 927.3L1379.2 925.3L1379.7 925.6L1380.2 925.1L1380.8 923.7L1381.3 924.9L1381.8 923.8L1382.3 924.2L1382.9 920.1L1383.4 923.1L1383.9 921.6L1384.5 920.8L1385.0 921.1L1385.5 919.8L1386.1 921.2L1386.6 921.4L1387.1 921.0L1387.6 921.5L1388.2 921.4L1388.7 921.9L1389.2 921.0L1389.8 923.2L1390.3 926.1L1390.8 926.2L1391.4 925.2L1391.9 926.5L1392.4 928.1L1392.9 926.7L1393.5 929.2L1394.0 926.1L1394.5 928.1L1395.1 927.9L1395.6 927.1L1396.1 927.1L1396.7 927.3L1397.2 923.4L1397.7 926.9L1398.2 927.7L1398.8 926.6L1399.3 927.6L1399.8 924.5L1400.4 925.9L1400.9 926.3L1401.4 925.3L1402.0 927.1L1402.5 926.0L1403.0 924.6L1403.5 926.2L1404.1 926.1L1404.6 924.3L1405.1 925.6L1405.7 925.2L1406.2 925.0L1406.7 922.7L1407.3 926.0L1407.8 925.0L1408.3 924.0L1408.8 924.4L1409.4 924.2L1409.9 923.2L1410.4 922.7L1411.0 923.4L1411.5 922.3L1412.0 922.2L1412.6 921.0L1413.1 921.9L1413.6 923.3L1414.1 921.9L1414.7 921.3L1415.2 920.5L1415.7 920.0L1416.3 918.5L1416.8 922.8L1417.3 919.8L1417.9 918.9L1418.4 921.6L1418.9 921.6L1419.4 920.7L1420.0 919.3L1420.5 919.0L1421.0 922.1L1421.6 918.3L1422.1 915.4L1422.6 916.5L1423.2 912.1L1423.7 912.4L1424.2 916.4L1424.7 918.4L1425.3 921.8L1425.8 918.8L1426.3 922.0L1426.9 919.7L1427.4 923.0L1427.9 921.8L1428.5 922.4L1429.0 922.3L1429.5 924.8L1430.0 926.1L1430.6 924.1L1431.1 924.1L1431.6 924.0L1432.2 925.5L1432.7 923.6L1433.2 929.8L1433.8 924.8L1434.3 927.5L1434.8 925.5L1435.3 923.5L1435.9 923.4L1436.4 925.1L1436.9 924.9L1437.5 925.7L1438.0 924.7L1438.5 929.7L1439.1 929.6L1439.6 924.4L1440.1 927.7L1440.6 928.8L1441.2 926.8L1441.7 927.1L1442.2 928.9L1442.8 928.3L1443.3 926.0L1443.8 929.5L1444.4 927.1L1444.9 930.3L1445.4 926.4L1445.9 924.6L1446.5 927.8L1447.0 929.2L1447.5 928.2L1448.1 927.5L1448.6 925.9L1449.1 928.1L1449.7 924.1L1450.2 927.4L1450.7 924.4L1451.2 924.9L1451.8 923.6L1452.3 923.9L1452.8 926.9L1453.4 923.1L1453.9 924.7L1454.4 923.2L1455.0 925.5L1455.5 922.1L1456.0 923.8L1456.5 924.9L1457.1 926.6L1457.6 921.7L1458.1 921.9L1458.7 922.8L1459.2 924.6L1459.7 921.0L1460.3 923.3L1460.8 921.2L1461.3 920.5L1461.8 919.6L1462.4 922.0L1462.9 923.1L1463.4 921.7L1464.0 919.0L1464.5 921.2L1465.0 923.3L1465.6 923.6L1466.1 923.1L1466.6 925.0L1467.1 921.6L1467.7 921.9L1468.2 927.1L1468.7 925.0L1469.3 924.0L1469.8 923.8L1470.3 921.0L1470.9 925.8L1471.4 921.9L1471.9 922.1L1472.4 924.8L1473.0 927.0L1473.5 924.5L1474.0 925.6L1474.6 924.6L1475.1 925.9L1475.6 923.2L1476.2 928.5L1476.7 924.5L1477.2 926.8L1477.7 923.4L1478.3 928.8L1478.8 927.1L1479.3 929.3L1479.9 925.8L1480.4 928.2L1480.9 926.6L1481.5 926.8L1482.0 928.8L1482.5 925.8L1483.0 928.1L1483.6 929.9L1484.1 929.7L1484.6 928.9L1485.2 928.0L1485.7 926.3L1486.2 929.7L1486.8 926.8L1487.3 929.4L1487.8 927.3L1488.3 927.8L1488.9 927.8L1489.4 928.6L1489.9 927.2L1490.5 928.1L1491.0 927.1L1491.5 928.5L1492.1 928.1L1492.6 928.3L1493.1 926.4L1493.6 928.0L1494.2 927.5L1494.7 928.1L1495.2 927.3L1495.8 925.8L1496.3 928.1L1496.8 926.2L1497.4 927.5L1497.9 924.2L1498.4 927.8L1498.9 928.0L1499.5 925.8L1500.0 927.8L1500.5 926.5L1501.1 928.8L1501.6 927.7L1502.1 925.0L1502.7 926.3L1503.2 924.1L1503.7 926.0L1504.2 927.1L1504.8 927.4L1505.3 926.1L1505.8 925.9L1506.4 926.4L1506.9 925.3L1507.4 926.5L1508.0 927.6L1508.5 926.2L1509.0 927.0L1509.5 924.7L1510.1 925.0L1510.6 926.0L1511.1 928.2L1511.7 926.8L1512.2 927.6L1512.7 925.3L1513.3 927.0L1513.8 923.0L1514.3 926.0L1514.8 922.6L1515.4 927.2L1515.9 926.3L1516.4 927.4L1517.0 926.5L1517.5 925.3L1518.0 925.1L1518.6 926.4L1519.1 928.3L1519.6 927.1L1520.1 925.5L1520.7 925.5L1521.2 925.3L1521.7 926.0L1522.3 926.2L1522.8 925.6L1523.3 926.2L1523.9 924.0L1524.4 928.3L1524.9 926.4L1525.4 928.1L1526.0 926.3L1526.5 925.6L1527.0 926.0L1527.6 926.2L1528.1 925.0L1528.6 925.5L1529.2 928.8L1529.7 927.6L1530.2 925.8L1530.7 927.3L1531.3 925.6L1531.8 928.8L1532.3 925.6L1532.9 928.2L1533.4 927.0L1533.9 927.0L1534.5 925.7L1535.0 926.4L1535.5 925.6L1536.0 925.3L1536.6 927.0L1537.1 929.5L1537.6 925.4L1538.2 927.0L1538.7 925.4L1539.2 924.1L1539.8 926.6L1540.3 925.4L1540.8 925.7L1541.3 923.9L1541.9 923.3L1542.4 921.1L1542.9 920.6L1543.5 921.4L1544.0 913.6L1544.5 914.2L1545.1 912.4L1545.6 908.7L1546.1 907.2L1546.6 906.1L1547.2 910.0L1547.7 912.7L1548.2 913.4L1548.8 917.5L1549.3 915.5L1549.8 913.3L1550.4 917.2L1550.9 917.9L1551.4 918.2L1551.9 920.1L1552.5 921.3L1553.0 920.7L1553.5 925.8L1554.1 924.8L1554.6 928.9L1555.1 925.6L1555.7 926.5L1556.2 924.1L1556.7 927.7L1557.2 925.0L1557.8 927.2L1558.3 927.7L1558.8 927.5L1559.4 925.2L1559.9 925.2L1560.4 927.1L1561.0 927.6L1561.5 927.8L1562.0 925.7L1562.5 925.5L1563.1 927.9L1563.6 924.6L1564.1 926.4L1564.7 924.9L1565.2 923.4L1565.7 923.8L1566.3 926.0L1566.8 925.8L1567.3 926.3L1567.8 925.3L1568.4 925.3L1568.9 926.5L1569.4 926.1L1570.0 924.5L1570.5 926.2L1571.0 929.3L1571.6 926.0L1572.1 927.8L1572.6 927.0L1573.1 928.0L1573.7 925.6L1574.2 924.9L1574.7 927.0L1575.3 925.2L1575.8 925.9L1576.3 925.3L1576.9 926.9L1577.4 925.8L1577.9 925.6L1578.4 924.0L1579.0 923.2L1579.5 924.2L1580.0 926.6L1580.6 926.4L1581.1 926.3L1581.6 925.0L1582.2 924.1L1582.7 927.0L1583.2 925.6L1583.7 925.9L1584.3 923.8L1584.8 923.9L1585.3 925.5L1585.9 925.5L1586.4 923.0L1586.9 924.7L1587.5 922.7L1588.0 925.9L1588.5 925.2L1589.0 927.4L1589.6 926.5L1590.1 923.7L1590.6 924.9L1591.2 924.1L1591.7 925.0L1592.2 925.9L1592.8 924.8L1593.3 924.8L1593.8 922.8L1594.3 925.3L1594.9 924.4L1595.4 925.1L1595.9 925.6L1596.5 924.2L1597.0 925.0L1597.5 923.1L1598.1 925.1L1598.6 923.8L1599.1 922.9L1599.6 923.3L1600.2 921.5L1600.7 922.4L1601.2 922.6L1601.8 923.1L1602.3 922.8L1602.8 922.0L1603.4 922.6L1603.9 920.0L1604.4 923.1L1604.9 923.9L1605.5 924.4L1606.0 925.0L1606.5 923.5L1607.1 923.9L1607.6 923.6L1608.1 923.8L1608.7 924.8L1609.2 926.5L1609.7 922.5L1610.2 924.1L1610.8 925.1L1611.3 923.3L1611.8 925.0L1612.4 922.4L1612.9 923.6L1613.4 921.6L1614.0 923.9L1614.5 922.3L1615.0 924.0L1615.5 922.6L1616.1 921.6L1616.6 922.2L1617.1 922.9L1617.7 922.7L1618.2 922.4L1618.7 922.3L1619.3 922.9L1619.8 924.1L1620.3 922.3L1620.8 923.7L1621.4 921.4L1621.9 924.4L1622.4 923.7L1623.0 922.6L1623.5 922.6L1624.0 920.7L1624.6 923.0L1625.1 922.5L1625.6 920.9L1626.1 922.3L1626.7 923.7L1627.2 923.3L1627.7 923.5L1628.3 922.6L1628.8 924.6L1629.3 923.7L1629.9 925.0L1630.4 926.9L1630.9 921.3L1631.4 923.4L1632.0 924.1L1632.5 923.0L1633.0 925.4L1633.6 923.5L1634.1 926.2L1634.6 925.0L1635.2 924.5L1635.7 924.0L1636.2 925.3L1636.7 925.0L1637.3 926.4L1637.8 925.1L1638.3 926.0L1638.9 925.2L1639.4 925.1L1639.9 922.5L1640.5 924.5L1641.0 924.9L1641.5 922.6L1642.0 922.1L1642.6 923.3L1643.1 923.8L1643.6 920.9L1644.2 923.1L1644.7 923.4L1645.2 921.1L1645.8 920.7L1646.3 919.5L1646.8 915.6L1647.3 913.9L1647.9 908.9L1648.4 900.6L1648.9 896.1L1649.5 889.9L1650.0 882.7L1650.5 884.8L1651.1 887.0L1651.6 891.7L1652.1 898.6L1652.6 904.5L1653.2 910.6L1653.7 911.7L1654.2 912.7L1654.8 911.1L1655.3 911.5L1655.8 908.1L1656.4 907.6L1656.9 909.3L1657.4 910.9L1657.9 911.6L1658.5 914.7L1659.0 917.8L1659.5 918.8L1660.1 921.8L1660.6 922.9L1661.1 921.7L1661.7 920.6L1662.2 922.4L1662.7 924.8L1663.2 924.8L1663.8 925.1L1664.3 925.3L1664.8 923.4L1665.4 924.7L1665.9 925.9L1666.4 925.0L1667.0 925.9L1667.5 923.4L1668.0 923.1L1668.5 927.4L1669.1 925.6L1669.6 925.3L1670.1 926.4L1670.7 927.4L1671.2 928.3L1671.7 921.2L1672.3 925.0L1672.8 925.9L1673.3 921.9L1673.8 922.1L1674.4 924.3L1674.9 927.0L1675.4 925.7L1676.0 927.3L1676.5 924.8L1677.0 925.8L1677.6 926.4L1678.1 925.0L1678.6 924.5L1679.1 924.8L1679.7 919.8L1680.2 925.4L1680.7 922.6L1681.3 924.2L1681.8 926.5L1682.3 926.3L1682.9 923.2L1683.4 926.7L1683.9 927.1L1684.4 926.3L1685.0 927.0L1685.5 926.8L1686.0 923.7L1686.6 925.8L1687.1 925.7L1687.6 924.5L1688.2 926.1L1688.7 925.2L1689.2 926.3" fill="none" stroke="#0000ff" stroke-width="5" stroke-linejoin="round" stroke-linecap="round" shape-rendering="crispEdges"/>
<path d="M95.5 531.4L96.0 532.1L96.6 531.3L97.1 528.6L97.6 532.1L98.2 531.3L98.7 529.6L99.2 531.3L99.7 530.9L100.3 530.7L100.8 530.2L101.3 530.9L101.9 528.8L102.4 529.7L102.9 529.2L103.5 531.0L104.0 530.1L104.5 529.7L105.0 529.0L105.6 530.0L106.1 530.6L106.6 530.3L107.2 533.0L107.7 532.7L108.2 527.0L108.8 528.4L109.3 531.3L109.8 530.9L110.3 531.9L110.9 531.9L111.4 534.9L111.9 529.6L112.5 530.6L113.0 534.3L113.5 531.9L114.1 531.8L114.6 529.8L115.1 527.9L115.6 530.7L116.2 530.5L116.7 528.3L117.2 529.2L117.8 530.2L118.3 528.9L118.8 530.3L119.4 530.7L119.9 530.7L120.4 529.9L120.9 531.7L121.5 532.2L122.0 531.4L122.5 529.6L123.1 532.1L123.6 530.1L124.1 532.3L124.7 529.2L125.2 532.3L125.7 530.8L126.2 528.8L126.8 530.3L127.3 531.0L127.8 531.4L128.4 529.4L128.9 529.4L129.4 531.6L130.0 530.7L130.5 531.9L131.0 532.9L131.5 529.1L132.1 532.2L132.6 533.7L133.1 531.2L133.7 530.3L134.2 532.6L134.7 531.6L135.3 532.5L135.8 530.3L136.3 528.4L136.8 530.4L137.4 529.8L137.9 531.7L138.4 530.8L139.0 527.9L139.5 528.7L140.0 532.1L140.6 531.8L141.1 529.8L141.6 530.8L142.1 531.5L142.7 531.5L143.2 532.1L143.7 531.0L144.3 530.4L144.8 530.1L145.3 532.1L145.9 526.8L146.4 530.2L146.9 530.4L147.4 528.1L148.0 531.0L148.5 529.5L149.0 532.0L149.6 530.5L150.1 531.9L150.6 533.0L151.2 531.8L151.7 529.9L152.2 529.0L152.7 534.4L153.3 531.5L153.8 530.6L154.3 531.9L154.9 531.4L155.4 533.0L155.9 531.6L156.5 531.5L157.0 530.2L157.5 532.0L158.0 529.6L158.6 532.3L159.1 533.6L159.6 528.8L160.2 527.3L160.7 532.2L161.2 535.4L161.8 529.8L162.3 529.5L162.8 532.5L163.3 530.3L163.9 530.8L164.4 531.1L164.9 532.5L165.5 531.0L166.0 532.1L166.5 531.3L167.1 530.2L167.6 531.0L168.1 529.9L168.6 531.3L169.2 529.4L169.7 529.4L170.2 533.4L170.8 530.9L171.3 530.8L171.8 531.7L172.4 530.1L172.9 530.4L173.4 531.4L173.9 531.2L174.5 528.9L175.0 532.1L175.5 529.9L176.1 529.2L176.6 529.5L177.1 530.4L177.7 533.6L178.2 529.1L178.7 531.1L179.2 527.3L179.8 530.6L180.3 531.8L180.8 529.7L181.4 528.8L181.9 529.9L182.4 530.5L183.0 530.3L183.5 532.2L184.0 529.4L184.5 528.1L185.1 528.9L185.6 529.0L186.1 529.4L186.7 529.3L187.2 529.7L187.7 526.8L188.3 530.9L188.8 528.8L189.3 527.9L189.8 530.9L190.4 532.1L190.9 530.8L191.4 530.4L192.0 528.6L192.5 534.7L193.0 531.5L193.6 528.2L194.1 528.8L194.6 530.1L195.1 527.5L195.7 530.2L196.2 529.2L196.7 532.0L197.3 531.6L197.8 525.8L198.3 530.3L198.9 527.8L199.4 532.2L199.9 530.8L200.4 531.6L201.0 529.1L201.5 533.9L202.0 534.3L202.6 529.5L203.1 531.9L203.6 530.2L204.2 531.3L204.7 529.2L205.2 534.2L205.7 529.6L206.3 530.6L206.8 531.7L207.3 529.7L207.9 530.2L208.4 529.5L208.9 530.0L209.5 528.2L210.0 529.2L210.5 529.4L211.0 529.0L211.6 529.5L212.1 528.8L212.6 530.4L213.2 528.7L213.7 529.0L214.2 528.2L214.8 528.5L215.3 527.4L215.8 530.4L216.3 527.9L216.9 528.7L217.4 530.6L217.9 530.7L218.5 529.5L219.0 527.0L219.5 530.9L220.1 530.6L220.6 527.9L221.1 531.4L221.6 529.0L222.2 528.3L222.7 530.2L223.2 529.7L223.8 530.3L224.3 527.4L224.8 532.9L225.4 529.0L225.9 527.5L226.4 530.9L226.9 529.3L227.5 530.4L228.0 529.3L228.5 529.7L229.1 530.2L229.6 528.6L230.1 530.9L230.7 529.1L231.2 528.5L231.7 530.0L232.2 530.6L232.8 529.5L233.3 528.5L233.8 530.8L234.4 527.0L234.9 528.1L235.4 529.9L236.0 527.7L236.5 530.0L237.0 530.0L237.5 531.6L238.1 528.9L238.6 529.6L239.1 531.3L239.7 527.0L240.2 536.1L240.7 530.2L241.3 530.3L241.8 532.9L242.3 531.5L242.8 528.7L243.4 532.4L243.9 532.7L244.4 530.5L245.0 530.6L245.5 531.7L246.0 529.3L246.6 531.3L247.1 530.8L247.6 529.3L248.1 528.1L248.7 529.9L249.2 528.9L249.7 531.9L250.3 530.6L250.8 531.7L251.3 530.7L251.9 530.9L252.4 529.3L252.9 531.6L253.4 533.4L254.0 530.1L254.5 529.6L255.0 530.3L255.6 529.7L256.1 529.4L256.6 530.8L257.2 530.1L257.7 532.9L258.2 530.7L258.7 531.3L259.3 532.4L259.8 530.5L260.3 533.3L260.9 530.0L261.4 529.7L261.9 530.3L262.5 530.6L263.0 528.4L263.5 530.4L264.0 527.6L264.6 532.4L265.1 530.0L265.6 529.0L266.2 528.6L266.7 529.5L267.2 529.8L267.8 528.6L268.3 528.9L268.8 530.1L269.3 529.7L269.9 532.1L270.4 532.5L270.9 530.7L271.5 531.5L272.0 528.6L272.5 531.8L273.1 530.8L273.6 531.7L274.1 533.6L274.6 527.5L275.2 531.6L275.7 529.6L276.2 532.5L276.8 529.6L277.3 531.1L277.8 532.4L278.4 533.3L278.9 532.7L279.4 531.4L279.9 532.0L280.5 534.4L281.0 533.0L281.5 530.3L282.1 534.2L282.6 533.4L283.1 533.8L283.7 531.6L284.2 533.2L284.7 529.8L285.2 532.1L285.8 530.1L286.3 531.7L286.8 532.0L287.4 529.0L287.9 529.9L288.4 529.9L289.0 531.6L289.5 530.7L290.0 527.5L290.5 530.0L291.1 530.3L291.6 532.4L292.1 526.2L292.7 528.0L293.2 530.9L293.7 526.5L294.3 526.7L294.8 529.5L295.3 530.3L295.8 527.7L296.4 529.7L296.9 529.0L297.4 531.4L298.0 529.0L298.5 530.7L299.0 527.8L299.6 529.0L300.1 529.2L300.6 531.2L301.1 530.3L301.7 528.2L302.2 530.4L302.7 530.5L303.3 529.1L303.8 528.8L304.3 528.8L304.9 526.3L305.4 529.2L305.9 529.2L306.4 527.4L307.0 529.9L307.5 526.6L308.0 527.9L308.6 528.1L309.1 532.1L309.6 526.4L310.2 530.0L310.7 530.7L311.2 529.9L311.7 531.3L312.3 527.9L312.8 525.9L313.3 530.9L313.9 527.8L314.4 529.3L314.9 528.1L315.5 531.7L316.0 531.5L316.5 529.0L317.0 531.6L317.6 530.4L318.1 529.9L318.6 530.2L319.2 529.7L319.7 530.8L320.2 530.2L320.8 528.9L321.3 531.0L321.8 528.2L322.3 529.5L322.9 529.6L323.4 531.2L323.9 528.0L324.5 531.5L325.0 529.0L325.5 528.4L326.1 527.7L326.6 529.8L327.1 529.0L327.6 527.3L328.2 527.3L328.7 528.3L329.2 528.2L329.8 531.1L330.3 531.6L330.8 530.8L331.4 529.9L331.9 528.6L332.4 529.2L332.9 530.4L333.5 532.3L334.0 530.2L334.5 528.1L335.1 528.4L335.6 527.5L336.1 526.9L336.7 527.8L337.2 528.4L337.7 531.0L338.2 528.1L338.8 530.2L339.3 530.9L339.8 528.2L340.4 530.6L340.9 529.1L341.4 527.3L342.0 528.4L342.5 528.0L343.0 527.6L343.5 527.7L344.1 528.4L344.6 528.9L345.1 526.9L345.7 528.4L346.2 526.0L346.7 528.9L347.3 529.5L347.8 528.8L348.3 529.0L348.8 529.5L349.4 527.5L349.9 528.1L350.4 529.4L351.0 530.2L351.5 529.3L352.0 532.8L352.6 528.6L353.1 530.4L353.6 530.9L354.1 528.6L354.7 527.5L355.2 526.8L355.7 528.8L356.3 530.2L356.8 528.8L357.3 528.4L357.9 527.4L358.4 528.7L358.9 524.3L359.4 527.9L360.0 527.5L360.5 525.2L361.0 530.7L361.6 524.9L362.1 525.4L362.6 525.1L363.2 528.7L363.7 525.4L364.2 527.9L364.7 527.7L365.3 527.1L365.8 524.6L366.3 525.7L366.9 529.3L367.4 524.6L367.9 525.4L368.5 526.5L369.0 528.1L369.5 527.3L370.0 528.2L370.6 525.5L371.1 528.8L371.6 528.3L372.2 524.9L372.7 530.0L373.2 531.3L373.8 526.4L374.3 527.7L374.8 529.7L375.3 525.0L375.9 524.0L376.4 524.9L376.9 525.9L377.5 525.7L378.0 527.4L378.5 526.7L379.1 524.1L379.6 527.0L380.1 529.0L380.6 527.9L381.2 527.6L381.7 526.1L382.2 527.7L382.8 524.6L383.3 527.4L383.8 526.2L384.4 528.2L384.9 527.1L385.4 524.6L385.9 526.5L386.5 528.1L387.0 524.2L387.5 524.9L388.1 524.4L388.6 523.0L389.1 526.7L389.7 527.1L390.2 526.1L390.7 525.1L391.2 524.5L391.8 524.9L392.3 523.3L392.8 525.9L393.4 526.2L393.9 526.0L394.4 523.7L395.0 524.6L395.5 524.2L396.0 527.2L396.5 524.6L397.1 521.2L397.6 524.7L398.1 526.9L398.7 524.8L399.2 525.0L399.7 523.5L400.3 520.3L400.8 520.6L401.3 521.6L401.8 523.6L402.4 524.4L402.9 525.2L403.4 523.7L404.0 525.9L404.5 524.0L405.0 523.3L405.6 525.7L406.1 522.8L406.6 519.7L407.1 522.1L407.7 523.7L408.2 518.3L408.7 522.2L409.3 521.8L409.8 519.6L410.3 518.8L410.9 519.7L411.4 518.4L411.9 519.8L412.4 516.1L413.0 509.1L413.5 503.7L414.0 495.2L414.6 480.2L415.1 454.3L415.6 427.0L416.2 407.3L416.7 400.5L417.2 417.7L417.7 443.0L418.3 469.6L418.8 493.1L419.3 500.2L419.9 510.4L420.4 512.9L420.9 518.2L421.5 521.2L422.0 520.7L422.5 523.2L423.0 523.9L423.6 524.0L424.1 526.5L424.6 525.3L425.2 523.8L425.7 523.4L426.2 523.4L426.8 525.7L427.3 524.6L427.8 529.6L428.3 528.4L428.9 525.3L429.4 525.3L429.9 528.7L430.5 523.2L431.0 525.6L431.5 528.0L432.1 525.1L432.6 525.9L433.1 526.3L433.6 528.1L434.2 527.4L434.7 528.0L435.2 528.5L435.8 527.7L436.3 529.5L436.8 526.7L437.4 525.6L437.9 525.1L438.4 525.3L438.9 526.9L439.5 529.4L440.0 527.9L440.5 526.5L441.1 525.6L441.6 526.3L442.1 526.4L442.7 526.1L443.2 524.7L443.7 526.1L444.2 528.5L444.8 523.4L445.3 526.5L445.8 523.4L446.4 527.1L446.9 525.5L447.4 523.3L448.0 526.7L448.5 529.4L449.0 526.6L449.5 528.2L450.1 526.1L450.6 522.6L451.1 526.7L451.7 525.2L452.2 523.4L452.7 526.9L453.3 526.0L453.8 524.5L454.3 526.7L454.8 523.8L455.4 526.1L455.9 523.4L456.4 525.7L457.0 522.9L457.5 526.9L458.0 524.8L458.6 526.5L459.1 522.7L459.6 523.1L460.1 524.9L460.7 518.9L461.2 521.3L461.7 524.3L462.3 523.0L462.8 523.4L463.3 520.7L463.9 521.4L464.4 518.4L464.9 516.2L465.4 514.2L466.0 514.1L466.5 511.2L467.0 506.4L467.6 493.0L468.1 478.5L468.6 450.1L469.2 404.6L469.7 349.0L470.2 314.4L470.7 327.6L471.3 382.7L471.8 424.7L472.3 460.6L472.9 474.7L473.4 472.8L473.9 458.1L474.5 428.0L475.0 369.9L475.5 289.3L476.0 196.6L476.6 148.5L477.1 190.3L477.6 283.9L478.2 367.4L478.7 431.1L479.2 464.9L479.8 484.8L480.3 496.3L480.8 502.3L481.3 509.8L481.9 512.9L482.4 515.9L482.9 515.7L483.5 517.7L484.0 517.5L484.5 517.5L485.1 520.9L485.6 521.3L486.1 519.7L486.6 523.0L487.2 519.7L487.7 522.7L488.2 522.3L488.8 522.8L489.3 522.2L489.8 525.7L490.4 525.4L490.9 526.5L491.4 525.0L491.9 522.9L492.5 524.4L493.0 523.2L493.5 525.8L494.1 527.1L494.6 525.7L495.1 524.2L495.7 524.6L496.2 525.6L496.7 523.0L497.2 525.7L497.8 525.9L498.3 524.9L498.8 525.3L499.4 526.4L499.9 524.9L500.4 525.0L501.0 527.6L501.5 526.7L502.0 529.0L502.5 524.6L503.1 523.1L503.6 527.2L504.1 527.0L504.7 524.1L505.2 522.7L505.7 524.7L506.3 521.8L506.8 523.9L507.3 520.8L507.8 523.7L508.4 520.7L508.9 523.6L509.4 526.4L510.0 523.5L510.5 525.2L511.0 522.9L511.6 522.4L512.1 521.4L512.6 525.5L513.1 523.7L513.7 526.3L514.2 521.8L514.7 523.3L515.3 523.8L515.8 526.0L516.3 526.7L516.9 522.7L517.4 521.9L517.9 520.9L518.4 525.8L519.0 523.4L519.5 522.4L520.0 523.2L520.6 519.0L521.1 520.1L521.6 524.1L522.2 522.9L522.7 522.2L523.2 520.0L523.7 522.1L524.3 523.5L524.8 518.2L525.3 519.6L525.9 518.2L526.4 518.9L526.9 517.5L527.5 516.4L528.0 514.1L528.5 514.2L529.0 511.5L529.6 510.0L530.1 507.0L530.6 503.8L531.2 495.3L531.7 485.7L532.2 472.0L532.8 445.7L533.3 410.4L533.8 365.0L534.3 307.0L534.9 248.6L535.4 207.9L535.9 202.5L536.5 241.6L537.0 299.5L537.5 355.5L538.1 400.0L538.6 438.7L539.1 460.9L539.6 477.1L540.2 486.4L540.7 488.9L541.2 495.1L541.8 493.6L542.3 495.1L542.8 494.9L543.4 496.7L543.9 498.0L544.4 496.1L544.9 501.5L545.5 501.2L546.0 507.1L546.5 511.9L547.1 514.9L547.6 517.8L548.1 517.0L548.7 519.7L549.2 520.6L549.7 523.4L550.2 524.7L550.8 522.2L551.3 529.4L551.8 523.9L552.4 523.8L552.9 525.8L553.4 526.5L554.0 526.6L554.5 525.1L555.0 528.9L555.5 527.0L556.1 529.7L556.6 529.8L557.1 525.7L557.7 526.4L558.2 526.6L558.7 528.8L559.3 528.6L559.8 529.0L560.3 527.4L560.8 529.3L561.4 530.9L561.9 526.4L562.4 528.2L563.0 528.8L563.5 528.1L564.0 527.9L564.6 531.1L565.1 530.3L565.6 529.7L566.1 527.2L566.7 532.1L567.2 529.2L567.7 527.8L568.3 528.3L568.8 528.1L569.3 532.3L569.9 529.2L570.4 529.0L570.9 525.4L571.4 529.9L572.0 527.0L572.5 526.8L573.0 529.4L573.6 526.9L574.1 529.6L574.6 529.9L575.2 525.2L575.7 527.7L576.2 525.4L576.7 527.8L577.3 529.3L577.8 525.6L578.3 530.6L578.9 527.2L579.4 525.7L579.9 527.3L580.5 528.7L581.0 525.1L581.5 527.2L582.0 524.9L582.6 529.0L583.1 527.3L583.6 526.4L584.2 528.8L584.7 525.1L585.2 526.7L585.8 530.4L586.3 527.4L586.8 530.0L587.3 528.2L587.9 526.9L588.4 527.7L588.9 528.2L589.5 527.4L590.0 526.7L590.5 526.7L591.1 525.4L591.6 527.9L592.1 528.3L592.6 528.8L593.2 524.7L593.7 528.9L594.2 527.6L594.8 525.4L595.3 528.0L595.8 529.2L596.4 528.9L596.9 529.4L597.4 529.9L597.9 529.9L598.5 528.5L599.0 525.2L599.5 527.3L600.1 529.1L600.6 527.7L601.1 529.4L601.7 529.4L602.2 528.1L602.7 530.8L603.2 526.0L603.8 528.8L604.3 526.4L604.8 525.7L605.4 527.8L605.9 525.7L606.4 528.1L607.0 525.0L607.5 527.0L608.0 525.8L608.5 527.0L609.1 527.0L609.6 526.0L610.1 529.1L610.7 526.3L611.2 526.9L611.7 530.0L612.3 530.2L612.8 529.8L613.3 529.4L613.8 532.5L614.4 526.9L614.9 527.6L615.4 527.2L616.0 530.2L616.5 529.2L617.0 530.5L617.6 530.2L618.1 528.2L618.6 527.3L619.1 527.0L619.7 532.1L620.2 530.2L620.7 529.6L621.3 528.2L621.8 528.5L622.3 528.3L622.9 528.3L623.4 525.0L623.9 528.7L624.4 528.1L625.0 529.2L625.5 529.0L626.0 530.1L626.6 528.7L627.1 530.0L627.6 524.7L628.2 527.1L628.7 531.6L629.2 527.0L629.7 528.5L630.3 530.2L630.8 527.7L631.3 530.4L631.9 527.0L632.4 526.2L632.9 527.2L633.5 526.7L634.0 529.3L634.5 528.7L635.0 529.6L635.6 527.3L636.1 532.8L636.6 528.4L637.2 528.3L637.7 528.8L638.2 527.5L638.8 526.6L639.3 527.5L639.8 528.7L640.3 528.2L640.9 528.6L641.4 526.2L641.9 525.9L642.5 530.4L643.0 526.9L643.5 528.2L644.1 528.8L644.6 530.1L645.1 525.9L645.6 527.5L646.2 527.8L646.7 528.2L647.2 525.0L647.8 528.8L648.3 524.5L648.8 529.7L649.4 530.1L649.9 530.3L650.4 527.4L650.9 531.0L651.5 528.1L652.0 527.6L652.5 528.1L653.1 528.3L653.6 530.0L654.1 531.1L654.7 526.4L655.2 529.0L655.7 531.4L656.2 530.4L656.8 530.9L657.3 527.8L657.8 531.9L658.4 527.9L658.9 530.8L659.4 532.8L660.0 533.7L660.5 531.5L661.0 532.0L661.5 529.6L662.1 529.8L662.6 532.3L663.1 530.4L663.7 530.1L664.2 527.9L664.7 530.3L665.3 531.0L665.8 528.6L666.3 529.0L666.8 532.2L667.4 529.9L667.9 529.1L668.4 527.8L669.0 528.6L669.5 529.2L670.0 531.8L670.6 528.7L671.1 532.5L671.6 528.1L672.1 529.0L672.7 530.9L673.2 529.1L673.7 528.0L674.3 529.0L674.8 529.9L675.3 526.3L675.9 528.6L676.4 528.7L676.9 528.2L677.4 530.0L678.0 527.8L678.5 528.1L679.0 528.7L679.6 529.7L680.1 528.0L680.6 530.7L681.2 526.7L681.7 530.0L682.2 526.4L682.7 527.5L683.3 528.2L683.8 530.8L684.3 528.8L684.9 526.6L685.4 529.2L685.9 526.6L686.5 525.6L687.0 527.4L687.5 526.7L688.0 527.9L688.6 525.3L689.1 526.5L689.6 526.7L690.2 525.9L690.7 525.2L691.2 523.9L691.8 526.2L692.3 524.8L692.8 525.1L693.3 523.5L693.9 523.9L694.4 523.7L694.9 524.5L695.5 524.5L696.0 520.4L696.5 517.9L697.1 513.3L697.6 511.2L698.1 504.5L698.6 497.8L699.2 496.8L699.7 490.7L700.2 483.7L700.8 480.6L701.3 474.2L701.8 467.0L702.4 455.9L702.9 446.8L703.4 437.8L703.9 432.5L704.5 420.8L705.0 417.5L705.5 416.2L706.1 411.0L706.6 409.2L707.1 416.7L707.7 411.9L708.2 417.8L708.7 418.8L709.2 422.3L709.8 423.6L710.3 430.3L710.8 439.3L711.4 442.2L711.9 451.7L712.4 457.1L713.0 464.9L713.5 466.0L714.0 473.9L714.5 477.5L715.1 477.1L715.6 476.4L716.1 482.8L716.7 478.8L717.2 480.9L717.7 483.7L718.3 484.7L718.8 482.8L719.3 485.3L719.8 486.1L720.4 489.5L720.9 493.2L721.4 487.9L722.0 494.1L722.5 489.8L723.0 496.2L723.6 496.1L724.1 502.3L724.6 500.7L725.1 500.5L725.7 502.1L726.2 503.2L726.7 505.6L727.3 506.3L727.8 508.9L728.3 511.3L728.9 510.9L729.4 508.8L729.9 509.1L730.4 511.5L731.0 515.4L731.5 514.1L732.0 514.6L732.6 516.9L733.1 515.4L733.6 516.8L734.2 520.2L734.7 519.1L735.2 519.1L735.7 520.6L736.3 519.5L736.8 519.6L737.3 520.4L737.9 522.4L738.4 521.9L738.9 520.3L739.5 521.9L740.0 523.6L740.5 525.7L741.0 521.0L741.6 523.4L742.1 522.5L742.6 524.2L743.2 523.5L743.7 524.7L744.2 522.7L744.8 520.5L745.3 520.1L745.8 521.1L746.3 520.7L746.9 523.6L747.4 522.2L747.9 517.5L748.5 519.7L749.0 516.9L749.5 516.3L750.1 520.0L750.6 519.8L751.1 518.0L751.6 523.0L752.2 519.6L752.7 520.0L753.2 523.7L753.8 523.8L754.3 524.0L754.8 524.9L755.4 526.1L755.9 526.2L756.4 526.8L756.9 524.7L757.5 526.2L758.0 530.0L758.5 528.0L759.1 530.2L759.6 531.5L760.1 529.1L760.7 530.3L761.2 533.4L761.7 531.4L762.2 533.4L762.8 533.1L763.3 532.1L763.8 530.9L764.4 530.0L764.9 529.8L765.4 532.5L766.0 532.4L766.5 531.4L767.0 533.1L767.5 530.7L768.1 533.5L768.6 531.7L769.1 531.6L769.7 531.6L770.2 531.4L770.7 535.5L771.3 529.0L771.8 531.8L772.3 533.5L772.8 532.7L773.4 531.0L773.9 534.3L774.4 529.9L775.0 529.5L775.5 532.5L776.0 529.4L776.6 528.0L777.1 533.3L777.6 533.1L778.1 533.2L778.7 531.3L779.2 532.4L779.7 530.6L780.3 535.0L780.8 533.4L781.3 533.4L781.9 529.1L782.4 533.5L782.9 534.7L783.4 534.3L784.0 533.7L784.5 532.5L785.0 532.0L785.6 533.7L786.1 533.4L786.6 533.3L787.2 532.5L787.7 535.8L788.2 531.3L788.7 533.2L789.3 532.4L789.8 535.1L790.3 535.8L790.9 535.6L791.4 534.9L791.9 531.5L792.5 537.1L793.0 534.7L793.5 533.7L794.0 534.0L794.6 533.5L795.1 534.9L795.6 534.8L796.2 533.9L796.7 530.5L797.2 534.6L797.8 535.5L798.3 535.6L798.8 534.5L799.3 535.4L799.9 536.2L800.4 533.8L800.9 536.8L801.5 531.2L802.0 532.3L802.5 532.8L803.1 530.2L803.6 532.5L804.1 536.0L804.6 535.8L805.2 533.9L805.7 536.3L806.2 533.8L806.8 532.5L807.3 533.5L807.8 532.8L808.4 534.1L808.9 530.4L809.4 534.3L809.9 532.0L810.5 534.0L811.0 530.2L811.5 532.0L812.1 532.8L812.6 534.1L813.1 530.8L813.7 535.4L814.2 533.5L814.7 531.9L815.2 534.8L815.8 533.1L816.3 534.9L816.8 537.0L817.4 534.7L817.9 532.9L818.4 533.3L819.0 535.1L819.5 534.9L820.0 533.4L820.5 533.9L821.1 536.2L821.6 539.1L822.1 531.2L822.7 536.7L823.2 535.3L823.7 536.8L824.3 536.9L824.8 535.6L825.3 533.7L825.8 533.0L826.4 532.0L826.9 536.8L827.4 534.2L828.0 533.4L828.5 533.3L829.0 531.0L829.6 532.6L830.1 532.8L830.6 530.4L831.1 523.1L831.7 524.1L832.2 516.8L832.7 511.4L833.3 510.5L833.8 511.5L834.3 515.8L834.9 518.0L835.4 521.1L835.9 526.4L836.4 532.5L837.0 530.0L837.5 533.1L838.0 533.2L838.6 537.8L839.1 530.8L839.6 535.7L840.2 531.9L840.7 533.1L841.2 533.8L841.7 539.0L842.3 532.6L842.8 530.8L843.3 535.8L843.9 532.3L844.4 533.2L844.9 533.5L845.5 533.6L846.0 533.2L846.5 533.9L847.0 534.1L847.6 534.9L848.1 533.0L848.6 532.5L849.2 532.1L849.7 534.9L850.2 534.1L850.8 535.1L851.3 535.3L851.8 537.3L852.3 535.0L852.9 536.0L853.4 533.0L853.9 533.2L854.5 534.5L855.0 533.1L855.5 536.1L856.1 532.9L856.6 535.2L857.1 531.1L857.6 533.3L858.2 534.6L858.7 534.7L859.2 532.2L859.8 535.2L860.3 536.6L860.8 535.9L861.4 533.8L861.9 533.8L862.4 532.8L862.9 535.6L863.5 536.8L864.0 533.6L864.5 531.7L865.1 534.8L865.6 535.6L866.1 530.2L866.7 534.9L867.2 538.3L867.7 536.3L868.2 536.1L868.8 536.0L869.3 537.2L869.8 534.1L870.4 534.3L870.9 536.4L871.4 534.6L872.0 536.0L872.5 532.4L873.0 536.6L873.5 536.6L874.1 535.1L874.6 535.2L875.1 537.4L875.7 533.0L876.2 533.1L876.7 532.8L877.3 533.9L877.8 533.0L878.3 534.8L878.8 533.9L879.4 532.7L879.9 532.7L880.4 537.3L881.0 535.4L881.5 535.3L882.0 535.8L882.6 535.7L883.1 537.1L883.6 536.8L884.1 534.9L884.7 534.5L885.2 534.1L885.7 533.7L886.3 537.8L886.8 534.0L887.3 532.1L887.9 533.9L888.4 533.8L888.9 535.5L889.4 533.5L890.0 535.7L890.5 535.4L891.0 536.8L891.6 538.3L892.1 539.5L892.6 537.1L893.2 533.2L893.7 534.6L894.2 535.7L894.7 538.7L895.3 536.5L895.8 537.4L896.3 535.1L896.9 536.3L897.4 536.4L897.9 534.4L898.5 536.2L899.0 536.5L899.5 534.4L900.0 536.1L900.6 536.9L901.1 534.3L901.6 534.1L902.2 533.5L902.7 533.0L903.2 534.3L903.8 533.5L904.3 533.8L904.8 533.3L905.3 532.3L905.9 533.5L906.4 535.7L906.9 533.5L907.5 534.6L908.0 538.4L908.5 537.7L909.1 535.0L909.6 537.1L910.1 535.2L910.6 538.8L911.2 535.3L911.7 536.2L912.2 538.2L912.8 534.4L913.3 537.6L913.8 533.9L914.4 535.3L914.9 534.2L915.4 534.3L915.9 534.5L916.5 533.9L917.0 532.3L917.5 535.4L918.1 535.2L918.6 536.2L919.1 536.6L919.7 532.5L920.2 536.9L920.7 537.2L921.2 534.5L921.8 537.2L922.3 538.1L922.8 535.0L923.4 533.7L923.9 535.3L924.4 540.3L925.0 536.1L925.5 533.7L926.0 535.2L926.5 534.0L927.1 534.9L927.6 535.7L928.1 531.4L928.7 536.2L929.2 537.9L929.7 535.3L930.3 535.0L930.8 537.4L931.3 533.5L931.8 533.4L932.4 533.0L932.9 534.8L933.4 535.5L934.0 534.6L934.5 535.4L935.0 535.6L935.6 535.0L936.1 532.8L936.6 533.7L937.1 536.1L937.7 532.5L938.2 533.9L938.7 533.7L939.3 534.2L939.8 532.8L940.3 532.4L940.9 538.7L941.4 536.1L941.9 533.4L942.4 534.4L943.0 535.5L943.5 533.9L944.0 535.4L944.6 533.4L945.1 533.9L945.6 534.4L946.2 533.9L946.7 530.8L947.2 534.9L947.7 535.4L948.3 535.9L948.8 533.7L949.3 535.9L949.9 535.8L950.4 532.7L950.9 532.2L951.5 536.5L952.0 534.3L952.5 537.5L953.0 539.4L953.6 535.1L954.1 535.0L954.6 536.1L955.2 537.3L955.7 534.4L956.2 538.3L956.8 537.9L957.3 537.3L957.8 535.3L958.3 537.5L958.9 537.2L959.4 533.7L959.9 538.7L960.5 534.6L961.0 535.3L961.5 533.6L962.1 534.8L962.6 535.8L963.1 532.5L963.6 531.0L964.2 532.9L964.7 531.5L965.2 532.3L965.8 533.3L966.3 533.5L966.8 535.7L967.4 532.1L967.9 534.4L968.4 533.1L968.9 536.2L969.5 538.2L970.0 534.8L970.5 537.1L971.1 533.6L971.6 532.0L972.1 532.5L972.7 532.0L973.2 533.0L973.7 534.1L974.2 536.3L974.8 535.5L975.3 535.0L975.8 533.5L976.4 533.0L976.9 534.1L977.4 534.2L978.0 534.3L978.5 534.4L979.0 533.6L979.5 530.6L980.1 531.9L980.6 532.3L981.1 536.2L981.7 532.8L982.2 534.6L982.7 535.9L983.3 534.2L983.8 533.1L984.3 533.4L984.8 532.3L985.4 534.7L985.9 536.2L986.4 535.5L987.0 536.1L987.5 536.2L988.0 538.6L988.6 534.6L989.1 536.0L989.6 537.1L990.1 538.1L990.7 532.2L991.2 535.3L991.7 535.8L992.3 534.4L992.8 537.3L993.3 536.1L993.9 534.9L994.4 532.7L994.9 532.9L995.4 533.3L996.0 535.4L996.5 532.5L997.0 531.0L997.6 531.9L998.1 533.2L998.6 536.7L999.2 538.0L999.7 533.2L1000.2 535.6L1000.7 536.3L1001.3 536.2L1001.8 534.1L1002.3 532.3L1002.9 533.8L1003.4 531.7L1003.9 535.2L1004.5 536.2L1005.0 532.1L1005.5 535.2L1006.0 535.8L1006.6 537.4L1007.1 537.7L1007.6 536.8L1008.2 534.4L1008.7 534.9L1009.2 537.3L1009.8 534.4L1010.3 535.2L1010.8 537.7L1011.3 535.3L1011.9 532.9L1012.4 534.5L1012.9 536.0L1013.5 534.6L1014.0 536.7L1014.5 536.9L1015.1 533.8L1015.6 533.9L1016.1 534.5L1016.6 532.7L1017.2 535.2L1017.7 534.3L1018.2 535.8L1018.8 533.6L1019.3 533.2L1019.8 537.5L1020.4 533.2L1020.9 533.8L1021.4 533.6L1021.9 534.4L1022.5 533.5L1023.0 535.0L1023.5 534.1L1024.1 534.6L1024.6 535.9L1025.1 536.4L1025.7 536.0L1026.2 534.0L1026.7 535.7L1027.2 534.7L1027.8 534.6L1028.3 531.8L1028.8 535.5L1029.4 534.1L1029.9 537.0L1030.4 535.2L1031.0 532.3L1031.5 531.9L1032.0 535.9L1032.5 532.6L1033.1 535.1L1033.6 533.6L1034.1 537.4L1034.7 534.2L1035.2 536.6L1035.7 536.3L1036.3 533.5L1036.8 533.7L1037.3 536.6L1037.8 534.2L1038.4 532.8L1038.9 536.2L1039.4 538.4L1040.0 534.2L1040.5 536.5L1041.0 534.0L1041.6 536.4L1042.1 533.9L1042.6 536.3L1043.1 535.1L1043.7 533.9L1044.2 534.6L1044.7 533.4L1045.3 532.5L1045.8 532.7L1046.3 534.4L1046.9 533.0L1047.4 535.6L1047.9 535.9L1048.4 535.9L1049.0 534.5L1049.5 535.5L1050.0 535.4L1050.6 537.5L1051.1 534.0L1051.6 534.6L1052.2 534.7L1052.7 534.7L1053.2 533.6L1053.7 533.6L1054.3 536.0L1054.8 533.3L1055.3 535.6L1055.9 537.3L1056.4 536.0L1056.9 531.0L1057.5 535.1L1058.0 534.6L1058.5 534.7L1059.0 531.2L1059.6 534.9L1060.1 532.0L1060.6 535.7L1061.2 535.3L1061.7 537.6L1062.2 532.9L1062.8 531.1L1063.3 535.1L1063.8 534.9L1064.3 532.9L1064.9 535.7L1065.4 534.6L1065.9 531.5L1066.5 533.0L1067.0 532.9L1067.5 533.4L1068.1 533.8L1068.6 532.3L1069.1 533.1L1069.6 534.3L1070.2 533.2L1070.7 532.7L1071.2 532.6L1071.8 532.8L1072.3 528.9L1072.8 532.1L1073.4 530.1L1073.9 531.9L1074.4 529.3L1074.9 533.2L1075.5 532.0L1076.0 529.5L1076.5 531.9L1077.1 530.2L1077.6 534.1L1078.1 531.9L1078.7 529.7L1079.2 531.1L1079.7 530.6L1080.2 532.3L1080.8 530.5L1081.3 530.4L1081.8 527.3L1082.4 529.9L1082.9 531.1L1083.4 527.7L1084.0 525.5L1084.5 524.7L1085.0 520.6L1085.5 519.7L1086.1 513.6L1086.6 510.1L1087.1 502.5L1087.7 497.4L1088.2 500.6L1088.7 498.5L1089.3 503.0L1089.8 503.2L1090.3 510.8L1090.8 513.9L1091.4 514.1L1091.9 517.6L1092.4 517.2L1093.0 518.9L1093.5 519.1L1094.0 520.1L1094.6 523.4L1095.1 523.9L1095.6 525.5L1096.1 528.1L1096.7 527.6L1097.2 526.1L1097.7 528.8L1098.3 528.1L1098.8 529.1L1099.3 528.1L1099.9 532.1L1100.4 533.7L1100.9 529.3L1101.4 532.5L1102.0 532.7L1102.5 530.3L1103.0 532.5L1103.6 535.0L1104.1 534.4L1104.6 536.0L1105.2 531.7L1105.7 532.4L1106.2 534.1L1106.7 534.2L1107.3 533.6L1107.8 532.7L1108.3 532.5L1108.9 531.9L1109.4 533.4L1109.9 528.0L1110.5 534.8L1111.0 531.3L1111.5 529.7L1112.0 532.8L1112.6 529.7L1113.1 532.6L1113.6 531.4L1114.2 533.0L1114.7 533.4L1115.2 534.2L1115.8 531.4L1116.3 531.7L1116.8 532.1L1117.3 529.9L1117.9 533.1L1118.4 532.4L1118.9 530.1L1119.5 534.2L1120.0 534.4L1120.5 530.1L1121.1 533.2L1121.6 534.3L1122.1 533.6L1122.6 530.6L1123.2 529.9L1123.7 531.9L1124.2 531.2L1124.8 532.0L1125.3 531.8L1125.8 532.7L1126.4 530.9L1126.9 531.5L1127.4 536.5L1127.9 531.5L1128.5 532.8L1129.0 532.0L1129.5 531.8L1130.1 530.0L1130.6 532.2L1131.1 531.3L1131.7 532.6L1132.2 534.5L1132.7 531.5L1133.2 532.5L1133.8 529.6L1134.3 531.4L1134.8 533.8L1135.4 531.3L1135.9 530.4L1136.4 531.8L1137.0 531.2L1137.5 531.2L1138.0 531.0L1138.5 534.9L1139.1 530.3L1139.6 531.1L1140.1 530.9L1140.7 533.8L1141.2 531.4L1141.7 533.9L1142.3 532.1L1142.8 531.8L1143.3 529.4L1143.8 533.6L1144.4 532.4L1144.9 532.1L1145.4 531.1L1146.0 530.6L1146.5 529.1L1147.0 532.6L1147.6 531.5L1148.1 530.6L1148.6 530.2L1149.1 531.6L1149.7 531.4L1150.2 534.3L1150.7 533.0L1151.3 530.9L1151.8 530.2L1152.3 531.7L1152.9 530.6L1153.4 532.2L1153.9 532.7L1154.4 533.1L1155.0 532.8L1155.5 531.9L1156.0 533.2L1156.6 530.8L1157.1 532.2L1157.6 533.6L1158.2 532.8L1158.7 530.3L1159.2 530.4L1159.7 529.7L1160.3 535.1L1160.8 529.7L1161.3 531.9L1161.9 535.0L1162.4 533.8L1162.9 534.2L1163.5 531.4L1164.0 533.4L1164.5 537.2L1165.0 532.4L1165.6 533.2L1166.1 532.2L1166.6 532.7L1167.2 533.3L1167.7 534.9L1168.2 531.1L1168.8 530.1L1169.3 532.3L1169.8 532.4L1170.3 534.1L1170.9 532.8L1171.4 530.6L1171.9 532.4L1172.5 533.2L1173.0 531.9L1173.5 531.0L1174.1 532.7L1174.6 531.2L1175.1 528.9L1175.6 534.2L1176.2 530.1L1176.7 531.7L1177.2 531.7L1177.8 531.7L1178.3 531.7L1178.8 529.8L1179.4 532.9L1179.9 532.0L1180.4 532.0L1180.9 533.6L1181.5 533.6L1182.0 534.0L1182.5 534.9L1183.1 532.7L1183.6 529.6L1184.1 532.5L1184.7 532.2L1185.2 532.4L1185.7 531.3L1186.2 530.9L1186.8 533.6L1187.3 533.9L1187.8 530.5L1188.4 533.1L1188.9 531.9L1189.4 531.5L1190.0 533.2L1190.5 532.0L1191.0 531.2L1191.5 532.1L1192.1 528.8L1192.6 531.1L1193.1 531.4L1193.7 529.8L1194.2 532.3L1194.7 532.4L1195.3 531.0L1195.8 531.6L1196.3 533.0L1196.8 533.5L1197.4 530.6L1197.9 532.3L1198.4 533.3L1199.0 531.5L1199.5 530.3L1200.0 530.2L1200.6 530.9L1201.1 529.8L1201.6 534.7L1202.1 530.7L1202.7 532.3L1203.2 532.1L1203.7 533.1L1204.3 531.6L1204.8 530.3L1205.3 535.2L1205.9 532.5L1206.4 533.2L1206.9 533.5L1207.4 535.3L1208.0 534.5L1208.5 535.1L1209.0 534.3L1209.6 532.7L1210.1 532.3L1210.6 530.1L1211.2 527.5L1211.7 529.6L1212.2 527.7L1212.7 532.9L1213.3 530.5L1213.8 529.3L1214.3 526.0L1214.9 529.3L1215.4 522.0L1215.9 521.6L1216.5 521.2L1217.0 519.7L1217.5 520.3L1218.0 519.2L1218.6 520.7L1219.1 516.5L1219.6 513.7L1220.2 509.1L1220.7 504.9L1221.2 500.7L1221.8 496.4L1222.3 495.3L1222.8 494.0L1223.3 493.8L1223.9 487.9L1224.4 488.2L1224.9 491.0L1225.5 489.3L1226.0 491.9L1226.5 491.3L1227.1 491.3L1227.6 491.0L1228.1 493.5L1228.6 492.9L1229.2 493.6L1229.7 493.9L1230.2 495.7L1230.8 496.1L1231.3 493.6L1231.8 497.3L1232.4 500.5L1232.9 503.8L1233.4 505.6L1233.9 506.9L1234.5 506.8L1235.0 509.5L1235.5 510.0L1236.1 505.1L1236.6 504.9L1237.1 499.1L1237.7 489.1L1238.2 486.5L1238.7 483.1L1239.2 484.0L1239.8 483.3L1240.3 485.7L1240.8 491.8L1241.4 492.1L1241.9 494.6L1242.4 496.6L1243.0 497.9L1243.5 499.3L1244.0 498.4L1244.5 497.9L1245.1 501.3L1245.6 501.4L1246.1 503.6L1246.7 510.1L1247.2 510.5L1247.7 510.4L1248.3 510.4L1248.8 512.4L1249.3 516.6L1249.8 519.3L1250.4 518.7L1250.9 521.0L1251.4 522.7L1252.0 524.5L1252.5 520.1L1253.0 523.6L1253.6 524.3L1254.1 525.3L1254.6 524.6L1255.1 522.3L1255.7 523.1L1256.2 521.6L1256.7 524.4L1257.3 524.4L1257.8 524.9L1258.3 522.5L1258.9 522.3L1259.4 526.7L1259.9 524.7L1260.4 527.3L1261.0 525.4L1261.5 522.6L1262.0 526.8L1262.6 528.0L1263.1 525.8L1263.6 524.0L1264.2 528.6L1264.7 527.7L1265.2 528.7L1265.7 524.4L1266.3 529.7L1266.8 525.0L1267.3 528.3L1267.9 530.9L1268.4 526.3L1268.9 526.1L1269.5 528.2L1270.0 531.4L1270.5 531.2L1271.0 527.5L1271.6 530.0L1272.1 529.2L1272.6 528.6L1273.2 528.7L1273.7 526.8L1274.2 529.2L1274.8 529.5L1275.3 534.4L1275.8 531.5L1276.3 526.0L1276.9 527.9L1277.4 530.2L1277.9 529.7L1278.5 526.6L1279.0 529.3L1279.5 528.9L1280.1 529.4L1280.6 529.3L1281.1 531.0L1281.6 532.0L1282.2 530.8L1282.7 528.0L1283.2 528.4L1283.8 528.8L1284.3 529.7L1284.8 529.0L1285.4 529.1L1285.9 528.1L1286.4 530.9L1286.9 530.7L1287.5 530.7L1288.0 528.9L1288.5 529.7L1289.1 527.5L1289.6 527.3L1290.1 528.0L1290.7 529.7L1291.2 528.5L1291.7 526.8L1292.2 528.7L1292.8 529.1L1293.3 528.5L1293.8 526.9L1294.4 527.6L1294.9 526.1L1295.4 525.4L1296.0 524.6L1296.5 524.9L1297.0 525.8L1297.5 525.3L1298.1 524.7L1298.6 524.6L1299.1 526.5L1299.7 528.2L1300.2 531.9L1300.7 526.8L1301.3 532.4L1301.8 529.4L1302.3 533.0L1302.8 535.4L1303.4 532.1L1303.9 530.1L1304.4 535.9L1305.0 536.3L1305.5 534.7L1306.0 535.9L1306.6 532.6L1307.1 535.8L1307.6 536.6L1308.1 535.0L1308.7 534.5L1309.2 536.1L1309.7 535.9L1310.3 533.0L1310.8 536.4L1311.3 535.5L1311.9 534.6L1312.4 536.4L1312.9 535.8L1313.4 535.6L1314.0 533.6L1314.5 535.8L1315.0 532.7L1315.6 534.4L1316.1 531.9L1316.6 532.0L1317.2 535.5L1317.7 534.7L1318.2 534.9L1318.7 535.7L1319.3 535.3L1319.8 533.3L1320.3 534.7L1320.9 534.4L1321.4 533.6L1321.9 534.1L1322.5 533.6L1323.0 533.1L1323.5 533.5L1324.0 534.3L1324.6 537.2L1325.1 532.7L1325.6 534.8L1326.2 531.7L1326.7 536.6L1327.2 533.6L1327.8 534.4L1328.3 536.2L1328.8 535.8L1329.3 531.8L1329.9 535.0L1330.4 533.7L1330.9 534.9L1331.5 534.1L1332.0 534.9L1332.5 534.1L1333.1 533.3L1333.6 535.3L1334.1 530.9L1334.6 532.7L1335.2 531.9L1335.7 533.2L1336.2 532.7L1336.8 533.2L1337.3 532.6L1337.8 532.6L1338.4 530.7L1338.9 533.2L1339.4 533.7L1339.9 532.2L1340.5 532.1L1341.0 532.1L1341.5 535.8L1342.1 533.5L1342.6 533.9L1343.1 533.0L1343.7 532.8L1344.2 532.3L1344.7 536.2L1345.2 531.1L1345.8 534.3L1346.3 533.7L1346.8 533.2L1347.4 530.9L1347.9 531.2L1348.4 534.6L1349.0 531.7L1349.5 534.1L1350.0 533.6L1350.5 533.4L1351.1 533.6L1351.6 530.3L1352.1 531.4L1352.7 533.2L1353.2 530.0L1353.7 534.6L1354.3 530.9L1354.8 531.6L1355.3 529.9L1355.8 531.9L1356.4 530.1L1356.9 531.0L1357.4 529.6L1358.0 533.4L1358.5 528.9L1359.0 532.3L1359.6 532.0L1360.1 532.4L1360.6 530.1L1361.1 533.5L1361.7 533.6L1362.2 532.5L1362.7 532.9L1363.3 532.5L1363.8 534.1L1364.3 532.1L1364.9 534.6L1365.4 534.6L1365.9 532.0L1366.4 530.3L1367.0 534.5L1367.5 534.3L1368.0 536.3L1368.6 534.2L1369.1 533.1L1369.6 531.5L1370.2 533.3L1370.7 532.3L1371.2 531.3L1371.7 532.7L1372.3 534.4L1372.8 532.6L1373.3 530.6L1373.9 532.5L1374.4 530.0L1374.9 529.0L1375.5 532.0L1376.0 530.1L1376.5 532.4L1377.0 530.8L1377.6 528.7L1378.1 530.0L1378.6 531.5L1379.2 528.8L1379.7 527.2L1380.2 527.5L1380.8 527.0L1381.3 526.2L1381.8 525.7L1382.3 528.0L1382.9 528.4L1383.4 524.7L1383.9 524.5L1384.5 521.6L1385.0 518.2L1385.5 508.8L1386.1 500.5L1386.6 492.5L1387.1 483.0L1387.6 476.9L1388.2 476.8L1388.7 477.6L1389.2 485.3L1389.8 490.7L1390.3 498.0L1390.8 501.2L1391.4 503.0L1391.9 504.4L1392.4 504.0L1392.9 505.9L1393.5 508.6L1394.0 508.1L1394.5 515.9L1395.1 514.6L1395.6 522.1L1396.1 525.7L1396.7 525.8L1397.2 528.2L1397.7 528.5L1398.2 532.0L1398.8 526.1L1399.3 530.1L1399.8 528.9L1400.4 532.6L1400.9 534.7L1401.4 534.8L1402.0 534.1L1402.5 533.6L1403.0 532.0L1403.5 535.3L1404.1 534.3L1404.6 532.0L1405.1 531.3L1405.7 532.3L1406.2 535.0L1406.7 535.2L1407.3 535.8L1407.8 531.9L1408.3 532.6L1408.8 535.3L1409.4 533.5L1409.9 534.5L1410.4 531.2L1411.0 532.8L1411.5 533.5L1412.0 533.0L1412.6 533.0L1413.1 531.2L1413.6 536.5L1414.1 534.2L1414.7 531.6L1415.2 535.7L1415.7 534.0L1416.3 534.8L1416.8 533.2L1417.3 531.9L1417.9 531.5L1418.4 532.7L1418.9 532.5L1419.4 530.6L1420.0 528.5L1420.5 526.1L1421.0 520.0L1421.6 515.8L1422.1 510.7L1422.6 506.2L1423.2 506.1L1423.7 509.3L1424.2 513.0L1424.7 516.7L1425.3 524.4L1425.8 523.8L1426.3 523.2L1426.9 526.4L1427.4 525.5L1427.9 524.9L1428.5 528.1L1429.0 528.2L1429.5 531.0L1430.0 535.0L1430.6 535.1L1431.1 533.9L1431.6 536.0L1432.2 537.2L1432.7 535.4L1433.2 535.0L1433.8 538.8L1434.3 535.3L1434.8 533.6L1435.3 535.8L1435.9 539.1L1436.4 536.3L1436.9 536.7L1437.5 531.6L1438.0 534.2L1438.5 536.9L1439.1 534.3L1439.6 537.0L1440.1 535.6L1440.6 535.5L1441.2 537.5L1441.7 534.1L1442.2 534.1L1442.8 535.1L1443.3 535.3L1443.8 532.3L1444.4 537.0L1444.9 535.4L1445.4 534.8L1445.9 536.1L1446.5 534.6L1447.0 537.2L1447.5 535.5L1448.1 536.7L1448.6 534.2L1449.1 535.2L1449.7 536.3L1450.2 534.3L1450.7 534.8L1451.2 535.8L1451.8 537.8L1452.3 537.2L1452.8 537.5L1453.4 536.6L1453.9 537.6L1454.4 538.6L1455.0 536.4L1455.5 536.9L1456.0 537.2L1456.5 533.0L1457.1 536.0L1457.6 536.8L1458.1 537.3L1458.7 535.5L1459.2 537.5L1459.7 534.8L1460.3 535.5L1460.8 538.5L1461.3 533.6L1461.8 535.6L1462.4 535.6L1462.9 535.7L1463.4 535.1L1464.0 537.0L1464.5 534.3L1465.0 534.0L1465.6 536.9L1466.1 534.2L1466.6 536.6L1467.1 536.1L1467.7 534.8L1468.2 535.3L1468.7 535.6L1469.3 536.5L1469.8 534.8L1470.3 535.5L1470.9 533.6L1471.4 535.6L1471.9 533.1L1472.4 536.3L1473.0 535.8L1473.5 540.0L1474.0 538.8L1474.6 536.6L1475.1 538.4L1475.6 537.3L1476.2 534.9L1476.7 532.7L1477.2 538.2L1477.7 536.9L1478.3 532.9L1478.8 536.9L1479.3 537.1L1479.9 534.4L1480.4 536.7L1480.9 532.7L1481.5 535.1L1482.0 535.6L1482.5 537.0L1483.0 536.5L1483.6 536.5L1484.1 537.2L1484.6 535.5L1485.2 539.1L1485.7 536.4L1486.2 538.4L1486.8 537.3L1487.3 537.0L1487.8 538.4L1488.3 538.2L1488.9 539.7L1489.4 539.3L1489.9 536.7L1490.5 538.4L1491.0 537.7L1491.5 536.3L1492.1 535.8L1492.6 538.0L1493.1 536.7L1493.6 535.4L1494.2 537.4L1494.7 537.9L1495.2 537.6L1495.8 535.5L1496.3 536.4L1496.8 539.5L1497.4 536.0L1497.9 536.6L1498.4 540.8L1498.9 537.6L1499.5 536.3L1500.0 534.0L1500.5 537.6L1501.1 535.0L1501.6 537.2L1502.1 535.9L1502.7 534.7L1503.2 540.1L1503.7 537.4L1504.2 539.0L1504.8 538.8L1505.3 536.5L1505.8 537.8L1506.4 537.0L1506.9 539.1L1507.4 538.1L1508.0 536.8L1508.5 539.9L1509.0 538.0L1509.5 537.7L1510.1 535.6L1510.6 537.4L1511.1 534.3L1511.7 537.3L1512.2 535.0L1512.7 536.8L1513.3 536.0L1513.8 536.8L1514.3 537.0L1514.8 536.4L1515.4 536.5L1515.9 534.2L1516.4 533.6L1517.0 538.6L1517.5 537.5L1518.0 534.2L1518.6 539.6L1519.1 535.4L1519.6 537.3L1520.1 537.0L1520.7 536.4L1521.2 537.1L1521.7 533.8L1522.3 535.8L1522.8 535.4L1523.3 535.9L1523.9 535.3L1524.4 534.7L1524.9 534.6L1525.4 537.3L1526.0 534.5L1526.5 536.5L1527.0 536.6L1527.6 536.0L1528.1 536.9L1528.6 537.2L1529.2 535.6L1529.7 537.1L1530.2 539.7L1530.7 535.0L1531.3 536.3L1531.8 535.5L1532.3 539.9L1532.9 534.5L1533.4 536.6L1533.9 538.0L1534.5 535.0L1535.0 536.1L1535.5 535.0L1536.0 533.9L1536.6 535.9L1537.1 536.7L1537.6 535.1L1538.2 536.0L1538.7 536.7L1539.2 537.5L1539.8 533.5L1540.3 536.3L1540.8 534.2L1541.3 532.1L1541.9 533.7L1542.4 535.9L1542.9 535.3L1543.5 533.0L1544.0 537.3L1544.5 535.5L1545.1 534.8L1545.6 534.2L1546.1 535.9L1546.6 534.8L1547.2 537.4L1547.7 536.2L1548.2 536.7L1548.8 535.2L1549.3 533.2L1549.8 536.3L1550.4 533.6L1550.9 534.8L1551.4 534.6L1551.9 533.1L1552.5 535.5L1553.0 531.6L1553.5 536.1L1554.1 532.6L1554.6 535.0L1555.1 535.4L1555.7 531.9L1556.2 532.1L1556.7 534.8L1557.2 533.6L1557.8 533.5L1558.3 530.5L1558.8 531.0L1559.4 534.6L1559.9 536.2L1560.4 533.0L1561.0 533.0L1561.5 535.0L1562.0 535.7L1562.5 536.2L1563.1 534.9L1563.6 532.8L1564.1 538.6L1564.7 535.8L1565.2 538.8L1565.7 533.8L1566.3 537.6L1566.8 536.2L1567.3 535.3L1567.8 538.4L1568.4 538.8L1568.9 535.7L1569.4 537.4L1570.0 534.5L1570.5 535.1L1571.0 535.6L1571.6 535.3L1572.1 536.8L1572.6 533.8L1573.1 537.2L1573.7 537.2L1574.2 535.3L1574.7 533.8L1575.3 532.0L1575.8 535.8L1576.3 534.9L1576.9 536.4L1577.4 534.7L1577.9 536.5L1578.4 536.5L1579.0 536.8L1579.5 537.4L1580.0 537.4L1580.6 538.6L1581.1 535.9L1581.6 538.4L1582.2 537.6L1582.7 536.8L1583.2 535.9L1583.7 539.9L1584.3 538.0L1584.8 536.9L1585.3 537.8L1585.9 537.7L1586.4 536.8L1586.9 535.4L1587.5 537.7L1588.0 537.1L1588.5 536.8L1589.0 538.7L1589.6 535.0L1590.1 535.5L1590.6 537.3L1591.2 538.3L1591.7 537.9L1592.2 538.1L1592.8 533.4L1593.3 537.7L1593.8 537.6L1594.3 538.0L1594.9 535.8L1595.4 537.7L1595.9 538.4L1596.5 539.3L1597.0 537.1L1597.5 534.6L1598.1 536.7L1598.6 537.5L1599.1 537.2L1599.6 539.3L1600.2 535.8L1600.7 534.3L1601.2 534.7L1601.8 536.5L1602.3 534.0L1602.8 533.4L1603.4 533.5L1603.9 536.6L1604.4 535.0L1604.9 534.1L1605.5 536.1L1606.0 536.0L1606.5 533.5L1607.1 536.5L1607.6 535.8L1608.1 532.2L1608.7 533.7L1609.2 536.1L1609.7 536.4L1610.2 535.2L1610.8 534.0L1611.3 535.9L1611.8 532.6L1612.4 536.3L1612.9 535.1L1613.4 535.3L1614.0 534.3L1614.5 536.7L1615.0 531.7L1615.5 534.0L1616.1 536.3L1616.6 534.3L1617.1 537.8L1617.7 536.1L1618.2 534.2L1618.7 537.1L1619.3 535.1L1619.8 536.1L1620.3 534.1L1620.8 534.1L1621.4 536.0L1621.9 534.9L1622.4 533.5L1623.0 533.2L1623.5 535.5L1624.0 537.2L1624.6 533.1L1625.1 535.4L1625.6 529.7L1626.1 532.1L1626.7 535.4L1627.2 536.8L1627.7 534.3L1628.3 534.9L1628.8 534.3L1629.3 535.4L1629.9 531.8L1630.4 534.2L1630.9 531.9L1631.4 531.1L1632.0 529.9L1632.5 526.9L1633.0 522.2L1633.6 518.4L1634.1 513.0L1634.6 514.6L1635.2 514.6L1635.7 516.6L1636.2 524.2L1636.7 527.3L1637.3 528.3L1637.8 527.7L1638.3 529.1L1638.9 529.3L1639.4 530.4L1639.9 528.2L1640.5 528.4L1641.0 533.9L1641.5 533.4L1642.0 532.4L1642.6 531.0L1643.1 533.5L1643.6 534.6L1644.2 534.1L1644.7 534.3L1645.2 533.0L1645.8 534.8L1646.3 532.1L1646.8 532.6L1647.3 532.6L1647.9 532.6L1648.4 536.9L1648.9 531.4L1649.5 534.6L1650.0 532.8L1650.5 532.6L1651.1 534.8L1651.6 532.1L1652.1 534.4L1652.6 538.0L1653.2 533.9L1653.7 534.5L1654.2 532.0L1654.8 533.6L1655.3 529.9L1655.8 532.0L1656.4 530.9L1656.9 534.0L1657.4 529.9L1657.9 529.0L1658.5 528.4L1659.0 527.2L1659.5 530.2L1660.1 531.3L1660.6 528.5L1661.1 530.4L1661.7 529.0L1662.2 530.5L1662.7 531.0L1663.2 528.3L1663.8 529.7L1664.3 532.7L1664.8 528.5L1665.4 531.9L1665.9 531.6L1666.4 531.0L1667.0 532.8L1667.5 533.5L1668.0 534.1L1668.5 529.3L1669.1 536.4L1669.6 533.2L1670.1 535.8L1670.7 534.1L1671.2 533.5L1671.7 534.5L1672.3 539.7L1672.8 537.2L1673.3 534.2L1673.8 535.1L1674.4 536.5L1674.9 535.6L1675.4 534.8L1676.0 534.4L1676.5 533.0L1677.0 536.0L1677.6 536.7L1678.1 538.6L1678.6 534.3L1679.1 536.3L1679.7 535.3L1680.2 537.4L1680.7 535.3L1681.3 534.4L1681.8 532.8L1682.3 536.6L1682.9 535.8L1683.4 537.3L1683.9 534.6L1684.4 539.6L1685.0 534.3L1685.5 536.1L1686.0 535.9L1686.6 536.9L1687.1 534.7L1687.6 533.4L1688.2 533.2L1688.7 535.9L1689.2 534.7" fill="none" stroke="#ff0000" stroke-width="5" stroke-linejoin="round" stroke-linecap="round" shape-rendering="crispEdges"/>
<rect x="95.5" y="22.5" width="1594" height="1014" fill="none" stroke="#000" stroke-width="5" shape-rendering="crispEdges"/>
<path d="M95.5 1034V1017.0M228.3 1034V1027.0M361.2 1034V1017.0M494.0 1034V1027.0M626.8 1034V1017.0M759.7 1034V1027.0M892.5 1034V1017.0M1025.3 1034V1027.0M1158.2 1034V1017.0M1291.0 1034V1027.0M1423.8 1034V1017.0M1556.7 1034V1027.0M1689.5 1034V1017.0" stroke="#000" stroke-width="5" fill="none"/>
<text transform="translate(94.70 1095.00) scale(1.0000 1.0400)" font-size="48.00" text-anchor="middle">20</text>
<text transform="translate(360.37 1095.00) scale(1.0000 1.0400)" font-size="48.00" text-anchor="middle">30</text>
<text transform="translate(626.03 1095.00) scale(1.0000 1.0400)" font-size="48.00" text-anchor="middle">40</text>
<text transform="translate(891.70 1095.00) scale(1.0000 1.0400)" font-size="48.00" text-anchor="middle">50</text>
<text transform="translate(1157.37 1095.00) scale(1.0000 1.0400)" font-size="48.00" text-anchor="middle">60</text>
<text transform="translate(1423.03 1095.00) scale(1.0000 1.0400)" font-size="48.00" text-anchor="middle">70</text>
<text transform="translate(1688.70 1095.00) scale(1.0000 1.0400)" font-size="48.00" text-anchor="middle">80</text>
<text transform="translate(892.50 1170.00) scale(1.0000 1.0450)" font-size="53.50" text-anchor="middle">2 Theta (degree)</text>
<text transform="translate(50.3 491) rotate(-90) scale(1 1.04)" font-size="54" text-anchor="middle">Intensity (a.u.)</text>
<text transform="translate(413.32 368.90) scale(1.1000 1.0400)" font-size="48.00" text-anchor="middle" clip-path="url(#c1)">1</text>
<text transform="translate(462.22 291.75) scale(1.1000 1.0400)" font-size="48.00" text-anchor="middle" clip-path="url(#c1)">1</text>
<text transform="translate(537.22 189.90) scale(1.1000 1.0400)" font-size="48.00" text-anchor="middle" clip-path="url(#c1)">1</text>
<text transform="translate(706.00 327.60) scale(1.0000 1.0400)" font-size="48.00" text-anchor="middle">4</text>
<text transform="translate(706.20 380.30) scale(1.0000 1.0400)" font-size="48.00" text-anchor="middle">2</text>
<text transform="translate(754.00 497.00) scale(1.0000 1.0400)" font-size="48.00" text-anchor="middle">4</text>
<text transform="translate(836.22 486.75) scale(1.1000 1.0400)" font-size="48.00" text-anchor="middle" clip-path="url(#c1)">1</text>
<text transform="translate(1090.17 474.90) scale(1.1000 1.0400)" font-size="48.00" text-anchor="middle" clip-path="url(#c1)">1</text>
<text transform="translate(1228.50 472.00) scale(1.0000 1.0400)" font-size="48.00" text-anchor="middle">24</text>
<text transform="translate(1413.00 477.00) scale(1.0000 1.0400)" font-size="48.00" text-anchor="middle">4</text>
<text transform="translate(1638.40 491.00) scale(1.0000 1.0400)" font-size="48.00" text-anchor="middle">2</text>
<text transform="translate(177.10 856.00) scale(1.0000 1.0400)" font-size="48.00" text-anchor="middle">3</text>
<text transform="translate(358.80 876.00) scale(1.0000 1.0400)" font-size="48.00" text-anchor="middle">5</text>
<text transform="translate(417.02 857.80) scale(1.1000 1.0400)" font-size="48.00" text-anchor="middle" clip-path="url(#c1)">1</text>
<text transform="translate(506.80 860.00) scale(1.0000 1.0400)" font-size="48.00" text-anchor="middle">5</text>
<text transform="translate(552.10 844.60) scale(1.0000 1.0400)" font-size="48.00" text-anchor="middle">2</text>
<text transform="translate(536.40 691.00) scale(1.0000 1.0400)" font-size="48.00" text-anchor="middle">3</text>
<text transform="translate(537.22 738.80) scale(1.1000 1.0400)" font-size="48.00" text-anchor="middle" clip-path="url(#c1)">1</text>
<text transform="translate(721.40 578.70) scale(1.0000 1.0400)" font-size="48.00" text-anchor="middle">2</text>
<text transform="translate(834.32 889.90) scale(1.1000 1.0400)" font-size="48.00" text-anchor="middle" clip-path="url(#c1)">1</text>
<text transform="translate(952.50 875.70) scale(1.0000 1.0400)" font-size="48.00" text-anchor="middle">3</text>
<text transform="translate(1085.17 859.90) scale(1.1000 1.0400)" font-size="48.00" text-anchor="middle" clip-path="url(#c1)">1</text>
<text transform="translate(1218.50 730.60) scale(1.0000 1.0400)" font-size="48.00" text-anchor="middle">2</text>
<text transform="translate(1549.10 879.00) scale(1.0000 1.0400)" font-size="48.00" text-anchor="middle">2</text>
<text transform="translate(1651.20 868.00) scale(1.0000 1.0400)" font-size="48.00" text-anchor="middle">2</text>
<text transform="translate(1313.00 86.00) scale(1.1000 1.0200)" font-size="49.00" text-anchor="middle" clip-path="url(#c1l)">1</text>
<rect x="1339.5" y="72.7" width="50" height="3.3" fill="#000"/>
<text transform="translate(1400.00 86.00) scale(1.0000 1.0200)" font-size="49.00">Mg</text>
<text transform="translate(1312.40 160.80) scale(1.0000 1.0200)" font-size="49.00" text-anchor="middle">2</text>
<rect x="1339.5" y="147.5" width="50" height="3.3" fill="#000"/>
<text transform="translate(1400.00 160.80) scale(1.0000 1.0200)" font-size="49.00">MgO</text>
<text transform="translate(1312.40 234.50) scale(1.0000 1.0200)" font-size="49.00" text-anchor="middle">3</text>
<rect x="1339.5" y="221.2" width="50" height="3.3" fill="#000"/>
<text transform="translate(1400.00 234.50) scale(1.0000 1.0200)" font-size="49.00">Mg<tspan font-size="34" dy="14">2</tspan><tspan dy="-14">SiO</tspan><tspan font-size="34" dy="14">4</tspan></text>
<text transform="translate(1312.40 318.10) scale(1.0000 1.0200)" font-size="49.00" text-anchor="middle">4</text>
<rect x="1339.5" y="304.8" width="50" height="3.3" fill="#000"/>
<text transform="translate(1400.00 318.10) scale(1.0000 1.0200)" font-size="49.00">MgAl<tspan font-size="34" dy="14">2</tspan><tspan dy="-14">O</tspan><tspan font-size="34" dy="14">4</tspan></text>
<text transform="translate(1312.40 400.60) scale(1.0000 1.0200)" font-size="49.00" text-anchor="middle">5</text>
<rect x="1339.5" y="387.3" width="50" height="3.3" fill="#000"/>
<text transform="translate(1402.50 400.60) scale(1.0000 1.0200)" font-size="49.00">CaMgP<tspan font-size="34" dy="14">2</tspan><tspan dy="-14">O</tspan><tspan font-size="34" dy="14">7</tspan></text>
<text transform="translate(1226.00 606.80) scale(1.0000 1.0450)" font-size="53.70" fill="#ff0000">NaAlO</text>
<text transform="translate(1389.30 622.00) scale(1.0000 1.0000)" font-size="36.00" fill="#ff0000">2</text>
<text transform="translate(1424.00 606.80) scale(1.0000 1.0450)" font-size="53.70" fill="#ff0000">Included</text>
<text transform="translate(1221.20 994.70) scale(1.0000 1.0450)" font-size="53.70" fill="#0000ff">NaAlO</text>
<text transform="translate(1383.90 1008.70) scale(1.0000 1.0000)" font-size="36.00" fill="#0000ff">2</text>
<text transform="translate(1415.00 994.70) scale(1.0000 1.0450)" font-size="53.70" fill="#0000ff">Excluded</text>
</svg>
</body></html>
